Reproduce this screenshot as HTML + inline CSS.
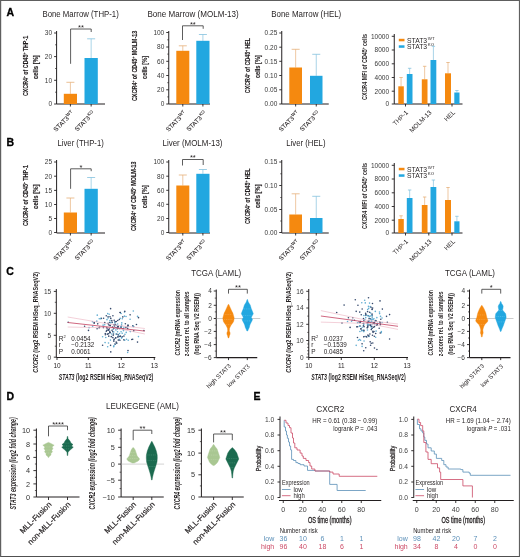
<!DOCTYPE html>
<html><head><meta charset="utf-8"><style>
html,body{margin:0;padding:0;background:#fff;}
svg{display:block;font-family:"Liberation Sans", sans-serif;will-change:transform;}
</style></head><body>
<svg width="520" height="557" viewBox="0 0 520 557">
<rect width="520" height="557" fill="#fff"/>
<rect x="0" y="0" width="520" height="1" fill="#5e5e5e"/><rect x="0" y="556" width="520" height="1" fill="#505050"/><rect x="0" y="0" width="1.2" height="557" fill="#606060"/><rect x="518.9" y="0" width="1.1" height="557" fill="#606060"/>
<text x="6.5" y="16.2" font-size="10.5" fill="#000" text-anchor="start" stroke="#000" stroke-width="0.3" font-weight="bold">A</text>
<text x="6.5" y="145.7" font-size="10.5" fill="#000" text-anchor="start" stroke="#000" stroke-width="0.3" font-weight="bold">B</text>
<text x="6.2" y="275" font-size="10.5" fill="#000" text-anchor="start" stroke="#000" stroke-width="0.3" font-weight="bold">C</text>
<text x="6.5" y="400.4" font-size="10.5" fill="#000" text-anchor="start" stroke="#000" stroke-width="0.3" font-weight="bold">D</text>
<text x="253.5" y="400.4" font-size="10.5" fill="#000" text-anchor="start" stroke="#000" stroke-width="0.3" font-weight="bold">E</text>
<text x="42.5" y="16.7" font-size="8.2" fill="#231f20" text-anchor="start" textLength="76.25" lengthAdjust="spacingAndGlyphs">Bone Marrow (THP-1)</text>
<line x1="56.6" y1="31" x2="56.6" y2="104" stroke="#231f20" stroke-width="1" />
<line x1="54.1" y1="33" x2="56.6" y2="33" stroke="#231f20" stroke-width="0.9" />
<text x="52.1" y="35.3" font-size="6.5" fill="#383838" text-anchor="end">30</text>
<line x1="54.1" y1="56.6" x2="56.6" y2="56.6" stroke="#231f20" stroke-width="0.9" />
<text x="52.1" y="58.9" font-size="6.5" fill="#383838" text-anchor="end">20</text>
<line x1="54.1" y1="80.3" x2="56.6" y2="80.3" stroke="#231f20" stroke-width="0.9" />
<text x="52.1" y="82.6" font-size="6.5" fill="#383838" text-anchor="end">10</text>
<line x1="54.1" y1="104" x2="56.6" y2="104" stroke="#231f20" stroke-width="0.9" />
<text x="52.1" y="106.3" font-size="6.5" fill="#383838" text-anchor="end">0</text>
<line x1="55.1" y1="44.8" x2="56.6" y2="44.8" stroke="#231f20" stroke-width="0.7" />
<line x1="55.1" y1="68.5" x2="56.6" y2="68.5" stroke="#231f20" stroke-width="0.7" />
<line x1="55.1" y1="92.2" x2="56.6" y2="92.2" stroke="#231f20" stroke-width="0.7" />
<line x1="56.6" y1="104" x2="105" y2="104" stroke="#231f20" stroke-width="1.1" />
<line x1="70.4" y1="104" x2="70.4" y2="106.5" stroke="#231f20" stroke-width="0.9" />
<line x1="91.15" y1="104" x2="91.15" y2="106.5" stroke="#231f20" stroke-width="0.9" />
<line x1="70.4" y1="82.3" x2="70.4" y2="93.8" stroke="#e6b07a" stroke-width="0.7" />
<line x1="66.4" y1="82.3" x2="74.4" y2="82.3" stroke="#e6b07a" stroke-width="0.8" />
<rect x="63.8" y="93.8" width="13.2" height="10.2" fill="#f5890f"/>
<line x1="91.15" y1="38.8" x2="91.15" y2="58" stroke="#84c2de" stroke-width="0.7" />
<line x1="87.15" y1="38.8" x2="95.15" y2="38.8" stroke="#84c2de" stroke-width="0.8" />
<rect x="84.5" y="58" width="13.3" height="46" fill="#22a7e0"/>
<polyline points="70.6,63.8 70.6,29 91.2,29 91.2,32" fill="none" stroke="#333" stroke-width="0.8" stroke-linejoin="miter"/>
<text x="80.9" y="29.9" font-size="7.5" fill="#231f20" text-anchor="middle">**</text>
<text x="28.3" y="96.1" font-size="8" fill="#231f20" text-anchor="start" stroke="#231f20" stroke-width="0.15" font-weight="bold" textLength="60.3" lengthAdjust="spacingAndGlyphs" transform="rotate(-90 28.3 96.1)">CXCR4<tspan font-size="4.5" dy="-2">+</tspan><tspan dy="2"> of CD45</tspan><tspan font-size="4.5" dy="-2">+</tspan><tspan dy="2"> THP-1</tspan></text>
<text x="38" y="78.9" font-size="8" fill="#231f20" text-anchor="start" stroke="#231f20" stroke-width="0.15" font-weight="bold" textLength="23.7" lengthAdjust="spacingAndGlyphs" transform="rotate(-90 38 78.9)">cells [%]</text>
<text x="74.4" y="113.8" font-size="6.3" fill="#231f20" text-anchor="end" stroke="#231f20" stroke-width="0.08" transform="rotate(-45 74.4 113.8)">STAT3<tspan font-size="4.3" dy="-2.6" dx="0.5">WT</tspan></text>
<text x="95.15" y="113.8" font-size="6.3" fill="#231f20" text-anchor="end" stroke="#231f20" stroke-width="0.08" transform="rotate(-45 95.15 113.8)">STAT3<tspan font-size="4.3" dy="-2.6" dx="0.5">KO</tspan></text>
<text x="147.5" y="16.7" font-size="8.2" fill="#231f20" text-anchor="start" textLength="91.25" lengthAdjust="spacingAndGlyphs">Bone Marrow (MOLM-13)</text>
<line x1="168.75" y1="31" x2="168.75" y2="104" stroke="#231f20" stroke-width="1" />
<line x1="166.25" y1="32.5" x2="168.75" y2="32.5" stroke="#231f20" stroke-width="0.9" />
<text x="164.25" y="34.8" font-size="6.5" fill="#383838" text-anchor="end">100</text>
<line x1="166.25" y1="47" x2="168.75" y2="47" stroke="#231f20" stroke-width="0.9" />
<text x="164.25" y="49.3" font-size="6.5" fill="#383838" text-anchor="end">80</text>
<line x1="166.25" y1="61.3" x2="168.75" y2="61.3" stroke="#231f20" stroke-width="0.9" />
<text x="164.25" y="63.6" font-size="6.5" fill="#383838" text-anchor="end">60</text>
<line x1="166.25" y1="75.5" x2="168.75" y2="75.5" stroke="#231f20" stroke-width="0.9" />
<text x="164.25" y="77.8" font-size="6.5" fill="#383838" text-anchor="end">40</text>
<line x1="166.25" y1="89.8" x2="168.75" y2="89.8" stroke="#231f20" stroke-width="0.9" />
<text x="164.25" y="92.1" font-size="6.5" fill="#383838" text-anchor="end">20</text>
<line x1="166.25" y1="104" x2="168.75" y2="104" stroke="#231f20" stroke-width="0.9" />
<text x="164.25" y="106.3" font-size="6.5" fill="#383838" text-anchor="end">0</text>
<line x1="167.25" y1="39.8" x2="168.75" y2="39.8" stroke="#231f20" stroke-width="0.7" />
<line x1="167.25" y1="54.1" x2="168.75" y2="54.1" stroke="#231f20" stroke-width="0.7" />
<line x1="167.25" y1="68.4" x2="168.75" y2="68.4" stroke="#231f20" stroke-width="0.7" />
<line x1="167.25" y1="82.7" x2="168.75" y2="82.7" stroke="#231f20" stroke-width="0.7" />
<line x1="167.25" y1="96.9" x2="168.75" y2="96.9" stroke="#231f20" stroke-width="0.7" />
<line x1="168.75" y1="104" x2="210" y2="104" stroke="#231f20" stroke-width="1.1" />
<line x1="182.8" y1="104" x2="182.8" y2="106.5" stroke="#231f20" stroke-width="0.9" />
<line x1="202.9" y1="104" x2="202.9" y2="106.5" stroke="#231f20" stroke-width="0.9" />
<line x1="182.8" y1="45.8" x2="182.8" y2="50.8" stroke="#e6b07a" stroke-width="0.7" />
<line x1="178.8" y1="45.8" x2="186.8" y2="45.8" stroke="#e6b07a" stroke-width="0.8" />
<rect x="176.3" y="50.8" width="13" height="53.2" fill="#f5890f"/>
<line x1="202.9" y1="34.5" x2="202.9" y2="40.8" stroke="#84c2de" stroke-width="0.7" />
<line x1="198.9" y1="34.5" x2="206.9" y2="34.5" stroke="#84c2de" stroke-width="0.8" />
<rect x="196.3" y="40.8" width="13.2" height="63.2" fill="#22a7e0"/>
<polyline points="182.5,40 182.5,25.8 203.2,25.8 203.2,28.8" fill="none" stroke="#333" stroke-width="0.8" stroke-linejoin="miter"/>
<text x="192.85" y="26.7" font-size="7.5" fill="#231f20" text-anchor="middle">**</text>
<text x="136.8" y="101.1" font-size="8" fill="#231f20" text-anchor="start" stroke="#231f20" stroke-width="0.15" font-weight="bold" textLength="70.4" lengthAdjust="spacingAndGlyphs" transform="rotate(-90 136.8 101.1)">CXCR4<tspan font-size="4.5" dy="-2">+</tspan><tspan dy="2"> of CD45</tspan><tspan font-size="4.5" dy="-2">+</tspan><tspan dy="2"> MOLM-13</tspan></text>
<text x="147" y="78.9" font-size="8" fill="#231f20" text-anchor="start" stroke="#231f20" stroke-width="0.15" font-weight="bold" textLength="23" lengthAdjust="spacingAndGlyphs" transform="rotate(-90 147 78.9)">cells [%]</text>
<text x="186.8" y="113.8" font-size="6.3" fill="#231f20" text-anchor="end" stroke="#231f20" stroke-width="0.08" transform="rotate(-45 186.8 113.8)">STAT3<tspan font-size="4.3" dy="-2.6" dx="0.5">WT</tspan></text>
<text x="206.9" y="113.8" font-size="6.3" fill="#231f20" text-anchor="end" stroke="#231f20" stroke-width="0.08" transform="rotate(-45 206.9 113.8)">STAT3<tspan font-size="4.3" dy="-2.6" dx="0.5">KO</tspan></text>
<text x="271.25" y="16.7" font-size="8.2" fill="#231f20" text-anchor="start" textLength="70" lengthAdjust="spacingAndGlyphs">Bone Marrow (HEL)</text>
<line x1="281.75" y1="31" x2="281.75" y2="104" stroke="#231f20" stroke-width="1" />
<line x1="279.25" y1="33" x2="281.75" y2="33" stroke="#231f20" stroke-width="0.9" />
<text x="277.25" y="35.3" font-size="6.5" fill="#383838" text-anchor="end">0.25</text>
<line x1="279.25" y1="47.2" x2="281.75" y2="47.2" stroke="#231f20" stroke-width="0.9" />
<text x="277.25" y="49.5" font-size="6.5" fill="#383838" text-anchor="end">0.20</text>
<line x1="279.25" y1="61.3" x2="281.75" y2="61.3" stroke="#231f20" stroke-width="0.9" />
<text x="277.25" y="63.6" font-size="6.5" fill="#383838" text-anchor="end">0.15</text>
<line x1="279.25" y1="75.5" x2="281.75" y2="75.5" stroke="#231f20" stroke-width="0.9" />
<text x="277.25" y="77.8" font-size="6.5" fill="#383838" text-anchor="end">0.10</text>
<line x1="279.25" y1="89.8" x2="281.75" y2="89.8" stroke="#231f20" stroke-width="0.9" />
<text x="277.25" y="92.1" font-size="6.5" fill="#383838" text-anchor="end">0.05</text>
<line x1="279.25" y1="104" x2="281.75" y2="104" stroke="#231f20" stroke-width="0.9" />
<text x="277.25" y="106.3" font-size="6.5" fill="#383838" text-anchor="end">0.00</text>
<line x1="281.75" y1="104" x2="328.75" y2="104" stroke="#231f20" stroke-width="1.1" />
<line x1="295.65" y1="104" x2="295.65" y2="106.5" stroke="#231f20" stroke-width="0.9" />
<line x1="316.25" y1="104" x2="316.25" y2="106.5" stroke="#231f20" stroke-width="0.9" />
<line x1="295.65" y1="49.3" x2="295.65" y2="67.5" stroke="#e6b07a" stroke-width="0.7" />
<line x1="291.65" y1="49.3" x2="299.65" y2="49.3" stroke="#e6b07a" stroke-width="0.8" />
<rect x="289.3" y="67.5" width="12.7" height="36.5" fill="#f5890f"/>
<line x1="316.25" y1="54.3" x2="316.25" y2="75.8" stroke="#84c2de" stroke-width="0.7" />
<line x1="312.25" y1="54.3" x2="320.25" y2="54.3" stroke="#84c2de" stroke-width="0.8" />
<rect x="310" y="75.8" width="12.5" height="28.2" fill="#22a7e0"/>
<text x="249.7" y="93.2" font-size="8" fill="#231f20" text-anchor="start" stroke="#231f20" stroke-width="0.15" font-weight="bold" textLength="55.3" lengthAdjust="spacingAndGlyphs" transform="rotate(-90 249.7 93.2)">CXCR4<tspan font-size="4.5" dy="-2">+</tspan><tspan dy="2"> of CD45</tspan><tspan font-size="4.5" dy="-2">+</tspan><tspan dy="2"> HEL</tspan></text>
<text x="260.1" y="78.1" font-size="8" fill="#231f20" text-anchor="start" stroke="#231f20" stroke-width="0.15" font-weight="bold" textLength="23" lengthAdjust="spacingAndGlyphs" transform="rotate(-90 260.1 78.1)">cells [%]</text>
<text x="299.65" y="113.8" font-size="6.3" fill="#231f20" text-anchor="end" stroke="#231f20" stroke-width="0.08" transform="rotate(-45 299.65 113.8)">STAT3<tspan font-size="4.3" dy="-2.6" dx="0.5">WT</tspan></text>
<text x="320.25" y="113.8" font-size="6.3" fill="#231f20" text-anchor="end" stroke="#231f20" stroke-width="0.08" transform="rotate(-45 320.25 113.8)">STAT3<tspan font-size="4.3" dy="-2.6" dx="0.5">KO</tspan></text>
<text x="57.5" y="145.7" font-size="8.2" fill="#231f20" text-anchor="start" textLength="46.25" lengthAdjust="spacingAndGlyphs">Liver (THP-1)</text>
<line x1="56.6" y1="160" x2="56.6" y2="233" stroke="#231f20" stroke-width="1" />
<line x1="54.1" y1="162" x2="56.6" y2="162" stroke="#231f20" stroke-width="0.9" />
<text x="52.1" y="164.3" font-size="6.5" fill="#383838" text-anchor="end">25</text>
<line x1="54.1" y1="176.2" x2="56.6" y2="176.2" stroke="#231f20" stroke-width="0.9" />
<text x="52.1" y="178.5" font-size="6.5" fill="#383838" text-anchor="end">20</text>
<line x1="54.1" y1="190.4" x2="56.6" y2="190.4" stroke="#231f20" stroke-width="0.9" />
<text x="52.1" y="192.7" font-size="6.5" fill="#383838" text-anchor="end">15</text>
<line x1="54.1" y1="204.5" x2="56.6" y2="204.5" stroke="#231f20" stroke-width="0.9" />
<text x="52.1" y="206.8" font-size="6.5" fill="#383838" text-anchor="end">10</text>
<line x1="54.1" y1="218.5" x2="56.6" y2="218.5" stroke="#231f20" stroke-width="0.9" />
<text x="52.1" y="220.8" font-size="6.5" fill="#383838" text-anchor="end">5</text>
<line x1="54.1" y1="232.5" x2="56.6" y2="232.5" stroke="#231f20" stroke-width="0.9" />
<text x="52.1" y="234.8" font-size="6.5" fill="#383838" text-anchor="end">0</text>
<line x1="56.6" y1="233" x2="105" y2="233" stroke="#231f20" stroke-width="1.1" />
<line x1="70.4" y1="233" x2="70.4" y2="235.5" stroke="#231f20" stroke-width="0.9" />
<line x1="91.15" y1="233" x2="91.15" y2="235.5" stroke="#231f20" stroke-width="0.9" />
<line x1="70.4" y1="198" x2="70.4" y2="212.5" stroke="#e6b07a" stroke-width="0.7" />
<line x1="66.4" y1="198" x2="74.4" y2="198" stroke="#e6b07a" stroke-width="0.8" />
<rect x="63.8" y="212.5" width="13.2" height="20.5" fill="#f5890f"/>
<line x1="91.15" y1="177.5" x2="91.15" y2="188.8" stroke="#84c2de" stroke-width="0.7" />
<line x1="87.15" y1="177.5" x2="95.15" y2="177.5" stroke="#84c2de" stroke-width="0.8" />
<rect x="84.5" y="188.8" width="13.3" height="44.2" fill="#22a7e0"/>
<polyline points="70.6,188.8 70.6,168.8 91.2,168.8 91.2,171.2" fill="none" stroke="#333" stroke-width="0.8" stroke-linejoin="miter"/>
<text x="80.9" y="169.7" font-size="7.5" fill="#231f20" text-anchor="middle">*</text>
<text x="28.5" y="226.1" font-size="8" fill="#231f20" text-anchor="start" stroke="#231f20" stroke-width="0.15" font-weight="bold" textLength="61" lengthAdjust="spacingAndGlyphs" transform="rotate(-90 28.5 226.1)">CXCR4<tspan font-size="4.5" dy="-2">+</tspan><tspan dy="2"> of CD45</tspan><tspan font-size="4.5" dy="-2">+</tspan><tspan dy="2"> THP-1</tspan></text>
<text x="38" y="208.9" font-size="8" fill="#231f20" text-anchor="start" stroke="#231f20" stroke-width="0.15" font-weight="bold" textLength="24.4" lengthAdjust="spacingAndGlyphs" transform="rotate(-90 38 208.9)">cells [%]</text>
<text x="74.4" y="242.8" font-size="6.3" fill="#231f20" text-anchor="end" stroke="#231f20" stroke-width="0.08" transform="rotate(-45 74.4 242.8)">STAT3<tspan font-size="4.3" dy="-2.6" dx="0.5">WT</tspan></text>
<text x="95.15" y="242.8" font-size="6.3" fill="#231f20" text-anchor="end" stroke="#231f20" stroke-width="0.08" transform="rotate(-45 95.15 242.8)">STAT3<tspan font-size="4.3" dy="-2.6" dx="0.5">KO</tspan></text>
<text x="162.5" y="145.7" font-size="8.2" fill="#231f20" text-anchor="start" textLength="60" lengthAdjust="spacingAndGlyphs">Liver (MOLM-13)</text>
<line x1="168.75" y1="160" x2="168.75" y2="233" stroke="#231f20" stroke-width="1" />
<line x1="166.25" y1="162" x2="168.75" y2="162" stroke="#231f20" stroke-width="0.9" />
<text x="164.25" y="164.3" font-size="6.5" fill="#383838" text-anchor="end">100</text>
<line x1="166.25" y1="176.2" x2="168.75" y2="176.2" stroke="#231f20" stroke-width="0.9" />
<text x="164.25" y="178.5" font-size="6.5" fill="#383838" text-anchor="end">80</text>
<line x1="166.25" y1="190.3" x2="168.75" y2="190.3" stroke="#231f20" stroke-width="0.9" />
<text x="164.25" y="192.6" font-size="6.5" fill="#383838" text-anchor="end">60</text>
<line x1="166.25" y1="204.3" x2="168.75" y2="204.3" stroke="#231f20" stroke-width="0.9" />
<text x="164.25" y="206.6" font-size="6.5" fill="#383838" text-anchor="end">40</text>
<line x1="166.25" y1="218.5" x2="168.75" y2="218.5" stroke="#231f20" stroke-width="0.9" />
<text x="164.25" y="220.8" font-size="6.5" fill="#383838" text-anchor="end">20</text>
<line x1="166.25" y1="232.5" x2="168.75" y2="232.5" stroke="#231f20" stroke-width="0.9" />
<text x="164.25" y="234.8" font-size="6.5" fill="#383838" text-anchor="end">0</text>
<line x1="168.75" y1="233" x2="210" y2="233" stroke="#231f20" stroke-width="1.1" />
<line x1="182.8" y1="233" x2="182.8" y2="235.5" stroke="#231f20" stroke-width="0.9" />
<line x1="202.9" y1="233" x2="202.9" y2="235.5" stroke="#231f20" stroke-width="0.9" />
<line x1="182.8" y1="175" x2="182.8" y2="185.5" stroke="#e6b07a" stroke-width="0.7" />
<line x1="178.8" y1="175" x2="186.8" y2="175" stroke="#e6b07a" stroke-width="0.8" />
<rect x="176.3" y="185.5" width="13" height="47.5" fill="#f5890f"/>
<line x1="202.9" y1="169.5" x2="202.9" y2="173.8" stroke="#84c2de" stroke-width="0.7" />
<line x1="198.9" y1="169.5" x2="206.9" y2="169.5" stroke="#84c2de" stroke-width="0.8" />
<rect x="196.3" y="173.8" width="13.2" height="59.2" fill="#22a7e0"/>
<polyline points="182.5,165.5 182.5,159.5 203.2,159.5 203.2,165" fill="none" stroke="#333" stroke-width="0.8" stroke-linejoin="miter"/>
<text x="192.85" y="160.4" font-size="7.5" fill="#231f20" text-anchor="middle">**</text>
<text x="136.3" y="231.1" font-size="8" fill="#231f20" text-anchor="start" stroke="#231f20" stroke-width="0.15" font-weight="bold" textLength="69.6" lengthAdjust="spacingAndGlyphs" transform="rotate(-90 136.3 231.1)">CXCR4<tspan font-size="4.5" dy="-2">+</tspan><tspan dy="2"> of CD45</tspan><tspan font-size="4.5" dy="-2">+</tspan><tspan dy="2"> MOLM-13</tspan></text>
<text x="147" y="208.2" font-size="8" fill="#231f20" text-anchor="start" stroke="#231f20" stroke-width="0.15" font-weight="bold" textLength="23" lengthAdjust="spacingAndGlyphs" transform="rotate(-90 147 208.2)">cells [%]</text>
<text x="186.8" y="242.8" font-size="6.3" fill="#231f20" text-anchor="end" stroke="#231f20" stroke-width="0.08" transform="rotate(-45 186.8 242.8)">STAT3<tspan font-size="4.3" dy="-2.6" dx="0.5">WT</tspan></text>
<text x="206.9" y="242.8" font-size="6.3" fill="#231f20" text-anchor="end" stroke="#231f20" stroke-width="0.08" transform="rotate(-45 206.9 242.8)">STAT3<tspan font-size="4.3" dy="-2.6" dx="0.5">KO</tspan></text>
<text x="286.25" y="145.7" font-size="8.2" fill="#231f20" text-anchor="start" textLength="39.25" lengthAdjust="spacingAndGlyphs">Liver (HEL)</text>
<line x1="281.75" y1="160" x2="281.75" y2="233" stroke="#231f20" stroke-width="1" />
<line x1="279.25" y1="162" x2="281.75" y2="162" stroke="#231f20" stroke-width="0.9" />
<text x="277.25" y="164.3" font-size="6.5" fill="#383838" text-anchor="end">0.15</text>
<line x1="279.25" y1="185.5" x2="281.75" y2="185.5" stroke="#231f20" stroke-width="0.9" />
<text x="277.25" y="187.8" font-size="6.5" fill="#383838" text-anchor="end">0.10</text>
<line x1="279.25" y1="209.5" x2="281.75" y2="209.5" stroke="#231f20" stroke-width="0.9" />
<text x="277.25" y="211.8" font-size="6.5" fill="#383838" text-anchor="end">0.05</text>
<line x1="279.25" y1="232.5" x2="281.75" y2="232.5" stroke="#231f20" stroke-width="0.9" />
<text x="277.25" y="234.8" font-size="6.5" fill="#383838" text-anchor="end">0.00</text>
<line x1="280.25" y1="173.8" x2="281.75" y2="173.8" stroke="#231f20" stroke-width="0.7" />
<line x1="280.25" y1="197.5" x2="281.75" y2="197.5" stroke="#231f20" stroke-width="0.7" />
<line x1="280.25" y1="221" x2="281.75" y2="221" stroke="#231f20" stroke-width="0.7" />
<line x1="281.75" y1="233" x2="328.75" y2="233" stroke="#231f20" stroke-width="1.1" />
<line x1="295.65" y1="233" x2="295.65" y2="235.5" stroke="#231f20" stroke-width="0.9" />
<line x1="316.25" y1="233" x2="316.25" y2="235.5" stroke="#231f20" stroke-width="0.9" />
<line x1="295.65" y1="193.8" x2="295.65" y2="214.5" stroke="#e6b07a" stroke-width="0.7" />
<line x1="291.65" y1="193.8" x2="299.65" y2="193.8" stroke="#e6b07a" stroke-width="0.8" />
<rect x="289.3" y="214.5" width="12.7" height="18.5" fill="#f5890f"/>
<line x1="316.25" y1="196.3" x2="316.25" y2="218" stroke="#84c2de" stroke-width="0.7" />
<line x1="312.25" y1="196.3" x2="320.25" y2="196.3" stroke="#84c2de" stroke-width="0.8" />
<rect x="310" y="218" width="12.5" height="15" fill="#22a7e0"/>
<text x="249.7" y="224" font-size="8" fill="#231f20" text-anchor="start" stroke="#231f20" stroke-width="0.15" font-weight="bold" textLength="55.4" lengthAdjust="spacingAndGlyphs" transform="rotate(-90 249.7 224)">CXCR4<tspan font-size="4.5" dy="-2">+</tspan><tspan dy="2"> of CD45</tspan><tspan font-size="4.5" dy="-2">+</tspan><tspan dy="2"> HEL</tspan></text>
<text x="260.1" y="208.1" font-size="8" fill="#231f20" text-anchor="start" stroke="#231f20" stroke-width="0.15" font-weight="bold" textLength="23.7" lengthAdjust="spacingAndGlyphs" transform="rotate(-90 260.1 208.1)">cells [%]</text>
<text x="299.65" y="242.8" font-size="6.3" fill="#231f20" text-anchor="end" stroke="#231f20" stroke-width="0.08" transform="rotate(-45 299.65 242.8)">STAT3<tspan font-size="4.3" dy="-2.6" dx="0.5">WT</tspan></text>
<text x="320.25" y="242.8" font-size="6.3" fill="#231f20" text-anchor="end" stroke="#231f20" stroke-width="0.08" transform="rotate(-45 320.25 242.8)">STAT3<tspan font-size="4.3" dy="-2.6" dx="0.5">KO</tspan></text>
<line x1="394.25" y1="34" x2="394.25" y2="104" stroke="#231f20" stroke-width="1" />
<line x1="391.75" y1="36.3" x2="394.25" y2="36.3" stroke="#231f20" stroke-width="0.9" />
<text x="389" y="38.6" font-size="6.5" fill="#383838" text-anchor="end">10000</text>
<line x1="391.75" y1="50" x2="394.25" y2="50" stroke="#231f20" stroke-width="0.9" />
<text x="389" y="52.3" font-size="6.5" fill="#383838" text-anchor="end">8000</text>
<line x1="391.75" y1="63.8" x2="394.25" y2="63.8" stroke="#231f20" stroke-width="0.9" />
<text x="389" y="66.1" font-size="6.5" fill="#383838" text-anchor="end">6000</text>
<line x1="391.75" y1="77.5" x2="394.25" y2="77.5" stroke="#231f20" stroke-width="0.9" />
<text x="389" y="79.8" font-size="6.5" fill="#383838" text-anchor="end">4000</text>
<line x1="391.75" y1="91.2" x2="394.25" y2="91.2" stroke="#231f20" stroke-width="0.9" />
<text x="389" y="93.5" font-size="6.5" fill="#383838" text-anchor="end">2000</text>
<line x1="391.75" y1="104" x2="394.25" y2="104" stroke="#231f20" stroke-width="0.9" />
<text x="389" y="106.3" font-size="6.5" fill="#383838" text-anchor="end">0</text>
<line x1="394.25" y1="104" x2="462.5" y2="104" stroke="#231f20" stroke-width="1.1" />
<line x1="405.5" y1="104" x2="405.5" y2="106.5" stroke="#231f20" stroke-width="0.9" />
<line x1="428.8" y1="104" x2="428.8" y2="106.5" stroke="#231f20" stroke-width="0.9" />
<line x1="452" y1="104" x2="452" y2="106.5" stroke="#231f20" stroke-width="0.9" />
<line x1="401.05" y1="77.5" x2="401.05" y2="86.3" stroke="#e6b07a" stroke-width="0.7" />
<line x1="399.35" y1="77.5" x2="402.75" y2="77.5" stroke="#e6b07a" stroke-width="0.8" />
<rect x="398.3" y="86.3" width="5.5" height="17.7" fill="#f5890f"/>
<line x1="409.65" y1="68.3" x2="409.65" y2="74" stroke="#84c2de" stroke-width="0.7" />
<line x1="407.95" y1="68.3" x2="411.35" y2="68.3" stroke="#84c2de" stroke-width="0.8" />
<rect x="406.8" y="74" width="5.7" height="30" fill="#22a7e0"/>
<line x1="424.65" y1="66.3" x2="424.65" y2="79.3" stroke="#e6b07a" stroke-width="0.7" />
<line x1="422.95" y1="66.3" x2="426.35" y2="66.3" stroke="#e6b07a" stroke-width="0.8" />
<rect x="421.8" y="79.3" width="5.7" height="24.7" fill="#f5890f"/>
<line x1="433.4" y1="46.3" x2="433.4" y2="60" stroke="#84c2de" stroke-width="0.7" />
<line x1="431.7" y1="46.3" x2="435.1" y2="46.3" stroke="#84c2de" stroke-width="0.8" />
<rect x="430.5" y="60" width="5.8" height="44" fill="#22a7e0"/>
<line x1="448" y1="62.5" x2="448" y2="73.3" stroke="#e6b07a" stroke-width="0.7" />
<line x1="446.3" y1="62.5" x2="449.7" y2="62.5" stroke="#e6b07a" stroke-width="0.8" />
<rect x="445" y="73.3" width="6" height="30.7" fill="#f5890f"/>
<line x1="456.9" y1="90.5" x2="456.9" y2="92.5" stroke="#84c2de" stroke-width="0.7" />
<line x1="455.2" y1="90.5" x2="458.6" y2="90.5" stroke="#84c2de" stroke-width="0.8" />
<rect x="454.3" y="92.5" width="5.2" height="11.5" fill="#22a7e0"/>
<rect x="398.8" y="38.8" width="5.7" height="2.5" fill="#f5890f"/>
<rect x="398.8" y="45.3" width="5.7" height="2.5" fill="#22a7e0"/>
<text x="407" y="42.8" font-size="6.8" fill="#231f20" text-anchor="start">STAT3<tspan font-size="4.4" dy="-3" dx="0.6">WT</tspan></text>
<text x="407" y="49.3" font-size="6.8" fill="#231f20" text-anchor="start">STAT3<tspan font-size="4.4" dy="-3" dx="0.6">KO</tspan></text>
<text x="366.6" y="100" font-size="8" fill="#231f20" text-anchor="start" font-weight="bold" textLength="66" lengthAdjust="spacingAndGlyphs" transform="rotate(-90 366.6 100)">CXCR4 MFI of CD45<tspan font-size="4.5" dy="-2">+</tspan><tspan dy="2"> cells</tspan></text>
<text x="408.5" y="113" font-size="6.4" fill="#231f20" text-anchor="end" transform="rotate(-45 408.5 113)">THP-1</text>
<text x="432" y="113" font-size="6.4" fill="#231f20" text-anchor="end" transform="rotate(-45 432 113)">MOLM-13</text>
<text x="455.5" y="113" font-size="6.4" fill="#231f20" text-anchor="end" transform="rotate(-45 455.5 113)">HEL</text>
<line x1="394.25" y1="163" x2="394.25" y2="233" stroke="#231f20" stroke-width="1" />
<line x1="391.75" y1="165.3" x2="394.25" y2="165.3" stroke="#231f20" stroke-width="0.9" />
<text x="389" y="167.6" font-size="6.5" fill="#383838" text-anchor="end">10000</text>
<line x1="391.75" y1="179" x2="394.25" y2="179" stroke="#231f20" stroke-width="0.9" />
<text x="389" y="181.3" font-size="6.5" fill="#383838" text-anchor="end">8000</text>
<line x1="391.75" y1="192.8" x2="394.25" y2="192.8" stroke="#231f20" stroke-width="0.9" />
<text x="389" y="195.1" font-size="6.5" fill="#383838" text-anchor="end">6000</text>
<line x1="391.75" y1="206.5" x2="394.25" y2="206.5" stroke="#231f20" stroke-width="0.9" />
<text x="389" y="208.8" font-size="6.5" fill="#383838" text-anchor="end">4000</text>
<line x1="391.75" y1="220.2" x2="394.25" y2="220.2" stroke="#231f20" stroke-width="0.9" />
<text x="389" y="222.5" font-size="6.5" fill="#383838" text-anchor="end">2000</text>
<line x1="391.75" y1="233" x2="394.25" y2="233" stroke="#231f20" stroke-width="0.9" />
<text x="389" y="235.3" font-size="6.5" fill="#383838" text-anchor="end">0</text>
<line x1="394.25" y1="233" x2="462.5" y2="233" stroke="#231f20" stroke-width="1.1" />
<line x1="405.5" y1="233" x2="405.5" y2="235.5" stroke="#231f20" stroke-width="0.9" />
<line x1="428.8" y1="233" x2="428.8" y2="235.5" stroke="#231f20" stroke-width="0.9" />
<line x1="452" y1="233" x2="452" y2="235.5" stroke="#231f20" stroke-width="0.9" />
<line x1="401.05" y1="215.8" x2="401.05" y2="219" stroke="#e6b07a" stroke-width="0.7" />
<line x1="399.35" y1="215.8" x2="402.75" y2="215.8" stroke="#e6b07a" stroke-width="0.8" />
<rect x="398.3" y="219" width="5.5" height="14" fill="#f5890f"/>
<line x1="409.65" y1="190" x2="409.65" y2="198" stroke="#84c2de" stroke-width="0.7" />
<line x1="407.95" y1="190" x2="411.35" y2="190" stroke="#84c2de" stroke-width="0.8" />
<rect x="406.8" y="198" width="5.7" height="35" fill="#22a7e0"/>
<line x1="424.65" y1="197" x2="424.65" y2="205" stroke="#e6b07a" stroke-width="0.7" />
<line x1="422.95" y1="197" x2="426.35" y2="197" stroke="#e6b07a" stroke-width="0.8" />
<rect x="421.8" y="205" width="5.7" height="28" fill="#f5890f"/>
<line x1="433.4" y1="180" x2="433.4" y2="187" stroke="#84c2de" stroke-width="0.7" />
<line x1="431.7" y1="180" x2="435.1" y2="180" stroke="#84c2de" stroke-width="0.8" />
<rect x="430.5" y="187" width="5.8" height="46" fill="#22a7e0"/>
<line x1="448" y1="187.5" x2="448" y2="200" stroke="#e6b07a" stroke-width="0.7" />
<line x1="446.3" y1="187.5" x2="449.7" y2="187.5" stroke="#e6b07a" stroke-width="0.8" />
<rect x="445" y="200" width="6" height="33" fill="#f5890f"/>
<line x1="456.9" y1="216.3" x2="456.9" y2="221.3" stroke="#84c2de" stroke-width="0.7" />
<line x1="455.2" y1="216.3" x2="458.6" y2="216.3" stroke="#84c2de" stroke-width="0.8" />
<rect x="454.3" y="221.3" width="5.2" height="11.7" fill="#22a7e0"/>
<rect x="398.8" y="167.8" width="5.7" height="2.5" fill="#f5890f"/>
<rect x="398.8" y="174.3" width="5.7" height="2.5" fill="#22a7e0"/>
<text x="407" y="171.8" font-size="6.8" fill="#231f20" text-anchor="start">STAT3<tspan font-size="4.4" dy="-3" dx="0.6">WT</tspan></text>
<text x="407" y="178.3" font-size="6.8" fill="#231f20" text-anchor="start">STAT3<tspan font-size="4.4" dy="-3" dx="0.6">KO</tspan></text>
<text x="366.6" y="229" font-size="8" fill="#231f20" text-anchor="start" font-weight="bold" textLength="66" lengthAdjust="spacingAndGlyphs" transform="rotate(-90 366.6 229)">CXCR4 MFI of CD45<tspan font-size="4.5" dy="-2">+</tspan><tspan dy="2"> cells</tspan></text>
<text x="408.5" y="242" font-size="6.4" fill="#231f20" text-anchor="end" transform="rotate(-45 408.5 242)">THP-1</text>
<text x="432" y="242" font-size="6.4" fill="#231f20" text-anchor="end" transform="rotate(-45 432 242)">MOLM-13</text>
<text x="455.5" y="242" font-size="6.4" fill="#231f20" text-anchor="end" transform="rotate(-45 455.5 242)">HEL</text>
<line x1="56.3" y1="289" x2="56.3" y2="357.5" stroke="#231f20" stroke-width="1" />
<line x1="53.8" y1="291.4" x2="56.3" y2="291.4" stroke="#231f20" stroke-width="0.9" />
<text x="51.2" y="293.7" font-size="6.5" fill="#383838" text-anchor="end">15</text>
<line x1="53.8" y1="313.3" x2="56.3" y2="313.3" stroke="#231f20" stroke-width="0.9" />
<text x="51.2" y="315.6" font-size="6.5" fill="#383838" text-anchor="end">10</text>
<line x1="53.8" y1="335.3" x2="56.3" y2="335.3" stroke="#231f20" stroke-width="0.9" />
<text x="51.2" y="337.6" font-size="6.5" fill="#383838" text-anchor="end">5</text>
<line x1="53.8" y1="357.2" x2="56.3" y2="357.2" stroke="#231f20" stroke-width="0.9" />
<text x="51.2" y="359.5" font-size="6.5" fill="#383838" text-anchor="end">0</text>
<line x1="54.8" y1="302.3" x2="56.3" y2="302.3" stroke="#231f20" stroke-width="0.7" />
<line x1="54.8" y1="324.3" x2="56.3" y2="324.3" stroke="#231f20" stroke-width="0.7" />
<line x1="54.8" y1="346.2" x2="56.3" y2="346.2" stroke="#231f20" stroke-width="0.7" />
<line x1="56.3" y1="357.5" x2="155.3" y2="357.5" stroke="#231f20" stroke-width="1.1" />
<line x1="57" y1="357.5" x2="57" y2="360" stroke="#231f20" stroke-width="0.9" />
<line x1="88.3" y1="357.5" x2="88.3" y2="360" stroke="#231f20" stroke-width="0.9" />
<line x1="121.3" y1="357.5" x2="121.3" y2="360" stroke="#231f20" stroke-width="0.9" />
<line x1="154.3" y1="357.5" x2="154.3" y2="360" stroke="#231f20" stroke-width="0.9" />
<text x="57" y="368" font-size="6.5" fill="#231f20" text-anchor="middle">10</text>
<text x="88.3" y="368" font-size="6.5" fill="#231f20" text-anchor="middle">11</text>
<text x="121.3" y="368" font-size="6.5" fill="#231f20" text-anchor="middle">12</text>
<text x="154.3" y="368" font-size="6.5" fill="#231f20" text-anchor="middle">13</text>
<circle cx="128.24" cy="340.32" r="0.8" fill="#62aed2"/>
<circle cx="115.65" cy="337.94" r="0.8" fill="#35496c"/>
<circle cx="106.29" cy="315.79" r="0.8" fill="#35496c"/>
<circle cx="133.77" cy="330.86" r="0.8" fill="#35496c"/>
<circle cx="116.05" cy="327.45" r="0.8" fill="#35496c"/>
<circle cx="114.78" cy="321.97" r="0.8" fill="#62aed2"/>
<circle cx="117.93" cy="326.77" r="0.8" fill="#35496c"/>
<circle cx="94.28" cy="322.83" r="0.8" fill="#35496c"/>
<circle cx="118.07" cy="336.71" r="0.8" fill="#35496c"/>
<circle cx="117.8" cy="336.98" r="0.8" fill="#35496c"/>
<circle cx="116.73" cy="334.12" r="0.8" fill="#35496c"/>
<circle cx="108.39" cy="329.77" r="0.8" fill="#35496c"/>
<circle cx="122.33" cy="318.76" r="0.8" fill="#62aed2"/>
<circle cx="127.65" cy="352.48" r="0.8" fill="#62aed2"/>
<circle cx="122.2" cy="333.26" r="0.8" fill="#62aed2"/>
<circle cx="110.62" cy="308.64" r="0.8" fill="#35496c"/>
<circle cx="122.82" cy="316.91" r="0.8" fill="#35496c"/>
<circle cx="99.24" cy="318.8" r="0.8" fill="#62aed2"/>
<circle cx="103.34" cy="327.62" r="0.8" fill="#35496c"/>
<circle cx="116.77" cy="343.17" r="0.8" fill="#35496c"/>
<circle cx="121.57" cy="337.49" r="0.8" fill="#62aed2"/>
<circle cx="111.79" cy="320.67" r="0.8" fill="#35496c"/>
<circle cx="99.53" cy="327.22" r="0.8" fill="#35496c"/>
<circle cx="107.37" cy="334.13" r="0.8" fill="#35496c"/>
<circle cx="130.26" cy="331.58" r="0.8" fill="#62aed2"/>
<circle cx="108.08" cy="323.3" r="0.8" fill="#35496c"/>
<circle cx="89.06" cy="327.66" r="0.8" fill="#62aed2"/>
<circle cx="97.73" cy="323.85" r="0.8" fill="#35496c"/>
<circle cx="92.64" cy="326.19" r="0.8" fill="#62aed2"/>
<circle cx="108.72" cy="329.71" r="0.8" fill="#35496c"/>
<circle cx="116.98" cy="327.76" r="0.8" fill="#62aed2"/>
<circle cx="124.49" cy="311.99" r="0.8" fill="#62aed2"/>
<circle cx="120.17" cy="318.42" r="0.8" fill="#62aed2"/>
<circle cx="113.11" cy="329.29" r="0.8" fill="#62aed2"/>
<circle cx="110.26" cy="325.58" r="0.8" fill="#35496c"/>
<circle cx="107.12" cy="328.76" r="0.8" fill="#35496c"/>
<circle cx="103.11" cy="325.16" r="0.8" fill="#62aed2"/>
<circle cx="113.81" cy="328.53" r="0.8" fill="#35496c"/>
<circle cx="121.56" cy="338.11" r="0.8" fill="#62aed2"/>
<circle cx="121.08" cy="313.52" r="0.8" fill="#62aed2"/>
<circle cx="115.39" cy="344.31" r="0.8" fill="#62aed2"/>
<circle cx="117.51" cy="328.78" r="0.8" fill="#35496c"/>
<circle cx="116.25" cy="321.56" r="0.8" fill="#35496c"/>
<circle cx="109.82" cy="322.48" r="0.8" fill="#35496c"/>
<circle cx="122.26" cy="336.77" r="0.8" fill="#35496c"/>
<circle cx="113.85" cy="341.27" r="0.8" fill="#35496c"/>
<circle cx="111.29" cy="336.66" r="0.8" fill="#35496c"/>
<circle cx="108.49" cy="333.81" r="0.8" fill="#35496c"/>
<circle cx="131.8" cy="339.51" r="0.8" fill="#35496c"/>
<circle cx="119.29" cy="339.21" r="0.8" fill="#62aed2"/>
<circle cx="117.79" cy="328.21" r="0.8" fill="#35496c"/>
<circle cx="114.91" cy="323.07" r="0.8" fill="#62aed2"/>
<circle cx="110.8" cy="318.4" r="0.8" fill="#35496c"/>
<circle cx="132.79" cy="325.68" r="0.8" fill="#35496c"/>
<circle cx="118.3" cy="340.12" r="0.8" fill="#35496c"/>
<circle cx="108.57" cy="324.57" r="0.8" fill="#62aed2"/>
<circle cx="123.46" cy="330.58" r="0.8" fill="#62aed2"/>
<circle cx="121.77" cy="322.88" r="0.8" fill="#62aed2"/>
<circle cx="107.67" cy="346.69" r="0.8" fill="#62aed2"/>
<circle cx="109.74" cy="331.26" r="0.8" fill="#35496c"/>
<circle cx="117.91" cy="326.37" r="0.8" fill="#62aed2"/>
<circle cx="128" cy="325.4" r="0.8" fill="#35496c"/>
<circle cx="133.29" cy="311.06" r="0.8" fill="#62aed2"/>
<circle cx="106.76" cy="327.54" r="0.8" fill="#35496c"/>
<circle cx="119.9" cy="340.24" r="0.8" fill="#35496c"/>
<circle cx="117.53" cy="331.75" r="0.8" fill="#62aed2"/>
<circle cx="112.81" cy="337.59" r="0.8" fill="#35496c"/>
<circle cx="130.1" cy="314.84" r="0.8" fill="#35496c"/>
<circle cx="118.57" cy="335.22" r="0.8" fill="#62aed2"/>
<circle cx="117.76" cy="320.43" r="0.8" fill="#35496c"/>
<circle cx="107.72" cy="313.58" r="0.8" fill="#62aed2"/>
<circle cx="105.07" cy="342.62" r="0.8" fill="#62aed2"/>
<circle cx="88.49" cy="330.41" r="0.8" fill="#35496c"/>
<circle cx="115.39" cy="324.47" r="0.8" fill="#35496c"/>
<circle cx="121.57" cy="324.88" r="0.8" fill="#62aed2"/>
<circle cx="101.27" cy="318.4" r="0.8" fill="#35496c"/>
<circle cx="111.76" cy="333.95" r="0.8" fill="#62aed2"/>
<circle cx="97.26" cy="315.16" r="0.8" fill="#62aed2"/>
<circle cx="123.93" cy="336.09" r="0.8" fill="#35496c"/>
<circle cx="119.59" cy="328.81" r="0.8" fill="#62aed2"/>
<circle cx="120.23" cy="312.49" r="0.8" fill="#35496c"/>
<circle cx="103.58" cy="318.18" r="0.8" fill="#35496c"/>
<circle cx="109.9" cy="325.4" r="0.8" fill="#35496c"/>
<circle cx="113.9" cy="345.79" r="0.8" fill="#62aed2"/>
<circle cx="125.37" cy="323.73" r="0.8" fill="#35496c"/>
<circle cx="120.11" cy="312.49" r="0.8" fill="#35496c"/>
<circle cx="114" cy="324.73" r="0.8" fill="#35496c"/>
<circle cx="118.04" cy="326.39" r="0.8" fill="#35496c"/>
<circle cx="125.9" cy="327.34" r="0.8" fill="#35496c"/>
<circle cx="119.5" cy="333.49" r="0.8" fill="#62aed2"/>
<circle cx="132.67" cy="339.25" r="0.8" fill="#35496c"/>
<circle cx="136.45" cy="324.54" r="0.8" fill="#35496c"/>
<circle cx="115.77" cy="337.68" r="0.8" fill="#35496c"/>
<circle cx="114.44" cy="326.03" r="0.8" fill="#35496c"/>
<circle cx="123.9" cy="327.22" r="0.8" fill="#62aed2"/>
<circle cx="108.17" cy="330.28" r="0.8" fill="#35496c"/>
<circle cx="137.51" cy="316.36" r="0.8" fill="#62aed2"/>
<circle cx="121.06" cy="331.81" r="0.8" fill="#62aed2"/>
<circle cx="127.79" cy="326.66" r="0.8" fill="#62aed2"/>
<circle cx="112.13" cy="322.4" r="0.8" fill="#35496c"/>
<circle cx="113.48" cy="333.98" r="0.8" fill="#35496c"/>
<circle cx="110.77" cy="351.88" r="0.8" fill="#35496c"/>
<circle cx="108.12" cy="318.03" r="0.8" fill="#62aed2"/>
<circle cx="109.72" cy="332.62" r="0.8" fill="#35496c"/>
<circle cx="108.5" cy="343.05" r="0.8" fill="#62aed2"/>
<circle cx="113.21" cy="335.25" r="0.8" fill="#35496c"/>
<circle cx="104.75" cy="322.55" r="0.8" fill="#35496c"/>
<circle cx="123.04" cy="328.81" r="0.8" fill="#35496c"/>
<circle cx="112.54" cy="326.97" r="0.8" fill="#35496c"/>
<circle cx="110.81" cy="322.7" r="0.8" fill="#62aed2"/>
<circle cx="97.09" cy="328.72" r="0.8" fill="#35496c"/>
<circle cx="99.09" cy="327.86" r="0.8" fill="#35496c"/>
<circle cx="121.56" cy="326.36" r="0.8" fill="#62aed2"/>
<circle cx="133.56" cy="326.5" r="0.8" fill="#35496c"/>
<circle cx="124.94" cy="334.36" r="0.8" fill="#62aed2"/>
<circle cx="110.57" cy="345.33" r="0.8" fill="#35496c"/>
<circle cx="118.04" cy="326.85" r="0.8" fill="#35496c"/>
<circle cx="130.07" cy="319.22" r="0.8" fill="#62aed2"/>
<circle cx="124.49" cy="316.15" r="0.8" fill="#62aed2"/>
<circle cx="120.41" cy="336.14" r="0.8" fill="#35496c"/>
<circle cx="112.91" cy="315.69" r="0.8" fill="#35496c"/>
<circle cx="138.46" cy="336.61" r="0.8" fill="#62aed2"/>
<circle cx="104.7" cy="324.77" r="0.8" fill="#62aed2"/>
<circle cx="106.87" cy="330.47" r="0.8" fill="#35496c"/>
<circle cx="115.89" cy="329.89" r="0.8" fill="#62aed2"/>
<circle cx="105.3" cy="333.53" r="0.8" fill="#35496c"/>
<circle cx="112.82" cy="331.67" r="0.8" fill="#35496c"/>
<circle cx="114.98" cy="343.95" r="0.8" fill="#35496c"/>
<circle cx="105.37" cy="334.81" r="0.8" fill="#35496c"/>
<circle cx="127.64" cy="328.49" r="0.8" fill="#35496c"/>
<circle cx="109.94" cy="320.65" r="0.8" fill="#62aed2"/>
<circle cx="115.18" cy="321.77" r="0.8" fill="#35496c"/>
<circle cx="109.28" cy="328.81" r="0.8" fill="#35496c"/>
<circle cx="96.77" cy="321.14" r="0.8" fill="#62aed2"/>
<circle cx="113.84" cy="340.1" r="0.8" fill="#35496c"/>
<circle cx="126.24" cy="332.42" r="0.8" fill="#62aed2"/>
<circle cx="124.72" cy="340.21" r="0.8" fill="#62aed2"/>
<circle cx="110.48" cy="340.08" r="0.8" fill="#62aed2"/>
<circle cx="105.78" cy="337.54" r="0.8" fill="#62aed2"/>
<circle cx="100.5" cy="318.63" r="0.8" fill="#62aed2"/>
<circle cx="127.98" cy="325.25" r="0.8" fill="#35496c"/>
<circle cx="115.98" cy="333.95" r="0.8" fill="#62aed2"/>
<circle cx="116.15" cy="325.22" r="0.8" fill="#62aed2"/>
<circle cx="114.2" cy="320.31" r="0.8" fill="#35496c"/>
<circle cx="123.84" cy="339.83" r="0.8" fill="#35496c"/>
<circle cx="133.14" cy="326.18" r="0.8" fill="#62aed2"/>
<circle cx="113.69" cy="346.66" r="0.8" fill="#62aed2"/>
<circle cx="126.54" cy="339.27" r="0.8" fill="#62aed2"/>
<circle cx="108.07" cy="316.87" r="0.8" fill="#35496c"/>
<circle cx="138.5" cy="317.63" r="0.8" fill="#35496c"/>
<circle cx="119.29" cy="319.44" r="0.8" fill="#35496c"/>
<circle cx="113.75" cy="331.93" r="0.8" fill="#62aed2"/>
<circle cx="120.63" cy="326.92" r="0.8" fill="#62aed2"/>
<circle cx="112.01" cy="330.32" r="0.8" fill="#35496c"/>
<circle cx="116.18" cy="342.14" r="0.8" fill="#35496c"/>
<circle cx="119.77" cy="336.49" r="0.8" fill="#35496c"/>
<circle cx="106.98" cy="319.67" r="0.8" fill="#62aed2"/>
<circle cx="118.09" cy="334.7" r="0.8" fill="#35496c"/>
<circle cx="114.17" cy="339.16" r="0.8" fill="#35496c"/>
<circle cx="109.18" cy="314.25" r="0.8" fill="#62aed2"/>
<circle cx="127.76" cy="326.24" r="0.8" fill="#35496c"/>
<circle cx="126.03" cy="316.54" r="0.8" fill="#62aed2"/>
<circle cx="110.23" cy="332.65" r="0.8" fill="#35496c"/>
<circle cx="117.68" cy="324.01" r="0.8" fill="#62aed2"/>
<circle cx="92.4" cy="321.82" r="0.8" fill="#62aed2"/>
<circle cx="121.08" cy="327.24" r="0.8" fill="#35496c"/>
<circle cx="108.63" cy="324.77" r="0.8" fill="#35496c"/>
<circle cx="108.76" cy="336.16" r="0.8" fill="#35496c"/>
<circle cx="106.29" cy="331.29" r="0.8" fill="#35496c"/>
<circle cx="102.6" cy="336.78" r="0.8" fill="#62aed2"/>
<circle cx="68.2" cy="322.3" r="0.8" fill="#35496c"/>
<circle cx="84.6" cy="326.3" r="0.8" fill="#35496c"/>
<circle cx="94.1" cy="323.1" r="0.8" fill="#35496c"/>
<circle cx="102.6" cy="345.3" r="0.8" fill="#35496c"/>
<circle cx="128" cy="350.6" r="0.8" fill="#35496c"/>
<circle cx="124.8" cy="311.4" r="0.8" fill="#35496c"/>
<circle cx="137.5" cy="342.1" r="0.8" fill="#35496c"/>
<circle cx="143.9" cy="330.5" r="0.8" fill="#35496c"/>
<circle cx="110" cy="316.7" r="0.8" fill="#35496c"/>
<polyline points="67.7,317 115,325 144.9,328.5" fill="none" stroke="#ebb0bf" stroke-width="0.6" stroke-linejoin="miter"/>
<polyline points="67.7,327 115,328 144.9,334" fill="none" stroke="#ebb0bf" stroke-width="0.6" stroke-linejoin="miter"/>
<polyline points="67.7,322.5 144.9,331.1" fill="none" stroke="#c4405f" stroke-width="0.8" stroke-linejoin="miter"/>
<text x="58.8" y="340.6" font-size="6.5" fill="#231f20" text-anchor="start">R<tspan font-size="4" dy="-2.5">2</tspan></text>
<text x="58.8" y="347.4" font-size="6.5" fill="#231f20" text-anchor="start">r</text>
<text x="58.8" y="354.3" font-size="6.5" fill="#231f20" text-anchor="start">P</text>
<text x="71.3" y="340.6" font-size="6.3" fill="#231f20" text-anchor="start">0.0454</text>
<text x="71.3" y="347.4" font-size="6.3" fill="#231f20" text-anchor="start">−0.2132</text>
<text x="71.3" y="354.3" font-size="6.3" fill="#231f20" text-anchor="start">0.0061</text>
<text x="58.7" y="379.8" font-size="8.2" fill="#231f20" text-anchor="start" font-weight="bold" textLength="94.6" lengthAdjust="spacingAndGlyphs"><tspan font-style="italic">STAT3</tspan> (log2 RSEM HiSeq_RNASeqV2)</text>
<text x="38.2" y="372.7" font-size="8" fill="#231f20" text-anchor="start" font-weight="bold" textLength="100.8" lengthAdjust="spacingAndGlyphs" transform="rotate(-90 38.2 372.7)"><tspan font-style="italic">CXCR2</tspan> (log2 RSEM HiSeq_RNASeqV2)</text>
<line x1="308.75" y1="289" x2="308.75" y2="357.5" stroke="#231f20" stroke-width="1" />
<line x1="306.25" y1="291.3" x2="308.75" y2="291.3" stroke="#231f20" stroke-width="0.9" />
<text x="303.6" y="293.6" font-size="6.5" fill="#383838" text-anchor="end">16</text>
<line x1="306.25" y1="308" x2="308.75" y2="308" stroke="#231f20" stroke-width="0.9" />
<text x="303.6" y="310.3" font-size="6.5" fill="#383838" text-anchor="end">14</text>
<line x1="306.25" y1="324.3" x2="308.75" y2="324.3" stroke="#231f20" stroke-width="0.9" />
<text x="303.6" y="326.6" font-size="6.5" fill="#383838" text-anchor="end">12</text>
<line x1="306.25" y1="340.5" x2="308.75" y2="340.5" stroke="#231f20" stroke-width="0.9" />
<text x="303.6" y="342.8" font-size="6.5" fill="#383838" text-anchor="end">10</text>
<line x1="306.25" y1="357.2" x2="308.75" y2="357.2" stroke="#231f20" stroke-width="0.9" />
<text x="303.6" y="359.5" font-size="6.5" fill="#383838" text-anchor="end">0</text>
<line x1="307.25" y1="299.7" x2="308.75" y2="299.7" stroke="#231f20" stroke-width="0.7" />
<line x1="307.25" y1="316.1" x2="308.75" y2="316.1" stroke="#231f20" stroke-width="0.7" />
<line x1="307.25" y1="332.4" x2="308.75" y2="332.4" stroke="#231f20" stroke-width="0.7" />
<line x1="307.25" y1="344" x2="308.75" y2="344" stroke="#231f20" stroke-width="0.7" />
<line x1="307.25" y1="347.4" x2="308.75" y2="347.4" stroke="#231f20" stroke-width="0.7" />
<line x1="307.25" y1="350.7" x2="308.75" y2="350.7" stroke="#231f20" stroke-width="0.7" />
<line x1="307.25" y1="354" x2="308.75" y2="354" stroke="#231f20" stroke-width="0.7" />
<line x1="308.75" y1="357.5" x2="408" y2="357.5" stroke="#231f20" stroke-width="1.1" />
<line x1="308.75" y1="357.5" x2="308.75" y2="360" stroke="#231f20" stroke-width="0.9" />
<line x1="341.3" y1="357.5" x2="341.3" y2="360" stroke="#231f20" stroke-width="0.9" />
<line x1="374.3" y1="357.5" x2="374.3" y2="360" stroke="#231f20" stroke-width="0.9" />
<line x1="407" y1="357.5" x2="407" y2="360" stroke="#231f20" stroke-width="0.9" />
<text x="308.75" y="368" font-size="6.5" fill="#231f20" text-anchor="middle">10</text>
<text x="341.3" y="368" font-size="6.5" fill="#231f20" text-anchor="middle">11</text>
<text x="374.3" y="368" font-size="6.5" fill="#231f20" text-anchor="middle">12</text>
<text x="407" y="368" font-size="6.5" fill="#231f20" text-anchor="middle">13</text>
<circle cx="386.54" cy="316.37" r="0.8" fill="#35496c"/>
<circle cx="381.27" cy="332.66" r="0.8" fill="#62aed2"/>
<circle cx="365.89" cy="315.49" r="0.8" fill="#62aed2"/>
<circle cx="361.25" cy="314.8" r="0.8" fill="#35496c"/>
<circle cx="362.2" cy="327.22" r="0.8" fill="#62aed2"/>
<circle cx="387.31" cy="322.21" r="0.8" fill="#35496c"/>
<circle cx="363.42" cy="325.68" r="0.8" fill="#35496c"/>
<circle cx="377.26" cy="324.92" r="0.8" fill="#35496c"/>
<circle cx="357.47" cy="337.43" r="0.8" fill="#35496c"/>
<circle cx="363.89" cy="320.28" r="0.8" fill="#35496c"/>
<circle cx="367.15" cy="327.83" r="0.8" fill="#35496c"/>
<circle cx="380.24" cy="322.88" r="0.8" fill="#35496c"/>
<circle cx="379.5" cy="311.93" r="0.8" fill="#62aed2"/>
<circle cx="379.6" cy="313.6" r="0.8" fill="#62aed2"/>
<circle cx="356.19" cy="345.37" r="0.8" fill="#62aed2"/>
<circle cx="375.65" cy="337.21" r="0.8" fill="#62aed2"/>
<circle cx="360.05" cy="325.95" r="0.8" fill="#35496c"/>
<circle cx="376.87" cy="317.64" r="0.8" fill="#62aed2"/>
<circle cx="359.56" cy="339.45" r="0.8" fill="#62aed2"/>
<circle cx="359.58" cy="326.14" r="0.8" fill="#62aed2"/>
<circle cx="367.58" cy="311.61" r="0.8" fill="#35496c"/>
<circle cx="363.74" cy="336.83" r="0.8" fill="#35496c"/>
<circle cx="373.96" cy="318.68" r="0.8" fill="#62aed2"/>
<circle cx="362.11" cy="346.38" r="0.8" fill="#62aed2"/>
<circle cx="359.95" cy="322.68" r="0.8" fill="#62aed2"/>
<circle cx="363.48" cy="318.46" r="0.8" fill="#35496c"/>
<circle cx="351.55" cy="321.26" r="0.8" fill="#62aed2"/>
<circle cx="381.37" cy="331.45" r="0.8" fill="#62aed2"/>
<circle cx="373.09" cy="319.43" r="0.8" fill="#62aed2"/>
<circle cx="379.18" cy="328.25" r="0.8" fill="#35496c"/>
<circle cx="371.24" cy="343.19" r="0.8" fill="#35496c"/>
<circle cx="354.43" cy="320.25" r="0.8" fill="#35496c"/>
<circle cx="372.8" cy="342.98" r="0.8" fill="#35496c"/>
<circle cx="368.61" cy="320.51" r="0.8" fill="#35496c"/>
<circle cx="374.28" cy="336.18" r="0.8" fill="#35496c"/>
<circle cx="370.63" cy="322.36" r="0.8" fill="#62aed2"/>
<circle cx="374.71" cy="324.02" r="0.8" fill="#62aed2"/>
<circle cx="371.63" cy="328.32" r="0.8" fill="#62aed2"/>
<circle cx="367.32" cy="324.96" r="0.8" fill="#62aed2"/>
<circle cx="370.18" cy="325.21" r="0.8" fill="#35496c"/>
<circle cx="359.75" cy="312.09" r="0.8" fill="#35496c"/>
<circle cx="368.02" cy="325.14" r="0.8" fill="#35496c"/>
<circle cx="370.23" cy="306.67" r="0.8" fill="#62aed2"/>
<circle cx="369.53" cy="303.09" r="0.8" fill="#62aed2"/>
<circle cx="363.72" cy="324.22" r="0.8" fill="#62aed2"/>
<circle cx="367.59" cy="327.24" r="0.8" fill="#35496c"/>
<circle cx="371.77" cy="319.3" r="0.8" fill="#62aed2"/>
<circle cx="361.94" cy="330.49" r="0.8" fill="#35496c"/>
<circle cx="374.62" cy="321.06" r="0.8" fill="#62aed2"/>
<circle cx="367.75" cy="323.92" r="0.8" fill="#62aed2"/>
<circle cx="370.63" cy="325.64" r="0.8" fill="#35496c"/>
<circle cx="370.78" cy="326.81" r="0.8" fill="#62aed2"/>
<circle cx="347.55" cy="321.51" r="0.8" fill="#62aed2"/>
<circle cx="374.45" cy="322.75" r="0.8" fill="#35496c"/>
<circle cx="368.95" cy="336.38" r="0.8" fill="#62aed2"/>
<circle cx="372.66" cy="308.05" r="0.8" fill="#35496c"/>
<circle cx="360.88" cy="328.68" r="0.8" fill="#35496c"/>
<circle cx="376.5" cy="325.27" r="0.8" fill="#35496c"/>
<circle cx="368.09" cy="315.68" r="0.8" fill="#35496c"/>
<circle cx="371.26" cy="329.6" r="0.8" fill="#35496c"/>
<circle cx="360.69" cy="321.55" r="0.8" fill="#35496c"/>
<circle cx="365.74" cy="317.63" r="0.8" fill="#62aed2"/>
<circle cx="380.79" cy="319.29" r="0.8" fill="#35496c"/>
<circle cx="359.13" cy="322.05" r="0.8" fill="#35496c"/>
<circle cx="361.04" cy="329.01" r="0.8" fill="#35496c"/>
<circle cx="380.23" cy="333.01" r="0.8" fill="#35496c"/>
<circle cx="352.21" cy="320.28" r="0.8" fill="#62aed2"/>
<circle cx="363.71" cy="350.77" r="0.8" fill="#35496c"/>
<circle cx="380.32" cy="324.82" r="0.8" fill="#35496c"/>
<circle cx="364.05" cy="340.99" r="0.8" fill="#62aed2"/>
<circle cx="377.18" cy="324.08" r="0.8" fill="#35496c"/>
<circle cx="363.89" cy="323.61" r="0.8" fill="#62aed2"/>
<circle cx="374.49" cy="326.66" r="0.8" fill="#35496c"/>
<circle cx="371.75" cy="321.42" r="0.8" fill="#62aed2"/>
<circle cx="372.46" cy="335.18" r="0.8" fill="#35496c"/>
<circle cx="356.78" cy="326.83" r="0.8" fill="#35496c"/>
<circle cx="371.76" cy="326.53" r="0.8" fill="#35496c"/>
<circle cx="375.31" cy="311.42" r="0.8" fill="#62aed2"/>
<circle cx="368.41" cy="320.91" r="0.8" fill="#62aed2"/>
<circle cx="371.05" cy="307.2" r="0.8" fill="#35496c"/>
<circle cx="363.81" cy="331.62" r="0.8" fill="#62aed2"/>
<circle cx="367.91" cy="335.14" r="0.8" fill="#35496c"/>
<circle cx="382" cy="317.93" r="0.8" fill="#62aed2"/>
<circle cx="372.24" cy="315.8" r="0.8" fill="#35496c"/>
<circle cx="363.2" cy="323.55" r="0.8" fill="#35496c"/>
<circle cx="361.77" cy="302.79" r="0.8" fill="#62aed2"/>
<circle cx="370.39" cy="318.91" r="0.8" fill="#35496c"/>
<circle cx="373.22" cy="322.92" r="0.8" fill="#35496c"/>
<circle cx="371.91" cy="324.73" r="0.8" fill="#62aed2"/>
<circle cx="379.81" cy="321.97" r="0.8" fill="#35496c"/>
<circle cx="367.44" cy="329.95" r="0.8" fill="#62aed2"/>
<circle cx="365.62" cy="313.24" r="0.8" fill="#35496c"/>
<circle cx="376.13" cy="331.08" r="0.8" fill="#62aed2"/>
<circle cx="369.12" cy="318.51" r="0.8" fill="#35496c"/>
<circle cx="367.75" cy="315.47" r="0.8" fill="#62aed2"/>
<circle cx="357.66" cy="326.79" r="0.8" fill="#35496c"/>
<circle cx="382.1" cy="322.47" r="0.8" fill="#62aed2"/>
<circle cx="373.97" cy="331.51" r="0.8" fill="#35496c"/>
<circle cx="356.19" cy="311.37" r="0.8" fill="#35496c"/>
<circle cx="360.41" cy="322.27" r="0.8" fill="#35496c"/>
<circle cx="364.67" cy="300.23" r="0.8" fill="#62aed2"/>
<circle cx="350.11" cy="327.4" r="0.8" fill="#35496c"/>
<circle cx="368.7" cy="308.35" r="0.8" fill="#62aed2"/>
<circle cx="372.2" cy="317.28" r="0.8" fill="#62aed2"/>
<circle cx="359.89" cy="331.51" r="0.8" fill="#62aed2"/>
<circle cx="368.24" cy="321.85" r="0.8" fill="#35496c"/>
<circle cx="365.28" cy="302.88" r="0.8" fill="#62aed2"/>
<circle cx="369.56" cy="321.3" r="0.8" fill="#62aed2"/>
<circle cx="367.68" cy="309.46" r="0.8" fill="#62aed2"/>
<circle cx="371.58" cy="319.95" r="0.8" fill="#62aed2"/>
<circle cx="369.53" cy="316.37" r="0.8" fill="#62aed2"/>
<circle cx="364.81" cy="319.64" r="0.8" fill="#62aed2"/>
<circle cx="375.69" cy="333.49" r="0.8" fill="#35496c"/>
<circle cx="368.78" cy="335.92" r="0.8" fill="#35496c"/>
<circle cx="374.46" cy="348.06" r="0.8" fill="#35496c"/>
<circle cx="377.64" cy="323.22" r="0.8" fill="#62aed2"/>
<circle cx="362.16" cy="308.94" r="0.8" fill="#35496c"/>
<circle cx="365.92" cy="314.96" r="0.8" fill="#35496c"/>
<circle cx="367.23" cy="322.96" r="0.8" fill="#35496c"/>
<circle cx="369.12" cy="316.82" r="0.8" fill="#62aed2"/>
<circle cx="370.64" cy="313.05" r="0.8" fill="#62aed2"/>
<circle cx="372.49" cy="303.57" r="0.8" fill="#35496c"/>
<circle cx="372.84" cy="331.36" r="0.8" fill="#35496c"/>
<circle cx="368.7" cy="324.39" r="0.8" fill="#62aed2"/>
<circle cx="376.01" cy="321.03" r="0.8" fill="#35496c"/>
<circle cx="363.01" cy="330.29" r="0.8" fill="#62aed2"/>
<circle cx="365.1" cy="336.51" r="0.8" fill="#35496c"/>
<circle cx="352.84" cy="317.68" r="0.8" fill="#35496c"/>
<circle cx="371.88" cy="315.4" r="0.8" fill="#62aed2"/>
<circle cx="372.1" cy="309.04" r="0.8" fill="#35496c"/>
<circle cx="370.79" cy="319.28" r="0.8" fill="#62aed2"/>
<circle cx="361.85" cy="330.77" r="0.8" fill="#62aed2"/>
<circle cx="372.13" cy="309.55" r="0.8" fill="#35496c"/>
<circle cx="369.89" cy="334" r="0.8" fill="#35496c"/>
<circle cx="365.76" cy="347.78" r="0.8" fill="#35496c"/>
<circle cx="372.06" cy="314.13" r="0.8" fill="#35496c"/>
<circle cx="367.75" cy="326.65" r="0.8" fill="#35496c"/>
<circle cx="373.06" cy="332.35" r="0.8" fill="#35496c"/>
<circle cx="382.35" cy="309.12" r="0.8" fill="#35496c"/>
<circle cx="357.95" cy="305.28" r="0.8" fill="#35496c"/>
<circle cx="373.48" cy="327.32" r="0.8" fill="#35496c"/>
<circle cx="365.85" cy="314.29" r="0.8" fill="#35496c"/>
<circle cx="370.53" cy="316" r="0.8" fill="#62aed2"/>
<circle cx="363.91" cy="315.5" r="0.8" fill="#62aed2"/>
<circle cx="360.56" cy="340.18" r="0.8" fill="#62aed2"/>
<circle cx="357.52" cy="322.75" r="0.8" fill="#62aed2"/>
<circle cx="368.42" cy="306.34" r="0.8" fill="#62aed2"/>
<circle cx="380.54" cy="316.41" r="0.8" fill="#62aed2"/>
<circle cx="366.29" cy="336.48" r="0.8" fill="#62aed2"/>
<circle cx="363.94" cy="330.42" r="0.8" fill="#35496c"/>
<circle cx="375.77" cy="320.55" r="0.8" fill="#35496c"/>
<circle cx="372.78" cy="319.02" r="0.8" fill="#62aed2"/>
<circle cx="370.25" cy="324.71" r="0.8" fill="#35496c"/>
<circle cx="358.38" cy="340.29" r="0.8" fill="#62aed2"/>
<circle cx="369.58" cy="312.32" r="0.8" fill="#35496c"/>
<circle cx="370.18" cy="341.87" r="0.8" fill="#35496c"/>
<circle cx="366.69" cy="336.92" r="0.8" fill="#35496c"/>
<circle cx="362.07" cy="343.87" r="0.8" fill="#35496c"/>
<circle cx="372.18" cy="328.27" r="0.8" fill="#35496c"/>
<circle cx="364.01" cy="326.64" r="0.8" fill="#35496c"/>
<circle cx="355.3" cy="299.8" r="0.8" fill="#35496c"/>
<circle cx="344.1" cy="305.1" r="0.8" fill="#35496c"/>
<circle cx="336.7" cy="312.5" r="0.8" fill="#35496c"/>
<circle cx="342" cy="323" r="0.8" fill="#35496c"/>
<circle cx="348.4" cy="317.8" r="0.8" fill="#35496c"/>
<circle cx="368.5" cy="297.7" r="0.8" fill="#35496c"/>
<circle cx="380" cy="300.9" r="0.8" fill="#35496c"/>
<circle cx="389.6" cy="314.6" r="0.8" fill="#35496c"/>
<circle cx="389.6" cy="339" r="0.8" fill="#35496c"/>
<circle cx="376.9" cy="349.5" r="0.8" fill="#35496c"/>
<circle cx="370.6" cy="345.3" r="0.8" fill="#35496c"/>
<polyline points="320.9,310.6 368,320.5 398,324" fill="none" stroke="#ebb0bf" stroke-width="0.6" stroke-linejoin="miter"/>
<polyline points="320.9,322.1 368,323.5 398,329.4" fill="none" stroke="#ebb0bf" stroke-width="0.6" stroke-linejoin="miter"/>
<polyline points="320.9,316 398,326.3" fill="none" stroke="#c4405f" stroke-width="0.8" stroke-linejoin="miter"/>
<text x="311.25" y="340.6" font-size="6.5" fill="#231f20" text-anchor="start">R<tspan font-size="4" dy="-2.5">2</tspan></text>
<text x="311.25" y="347.4" font-size="6.5" fill="#231f20" text-anchor="start">r</text>
<text x="311.25" y="354.3" font-size="6.5" fill="#231f20" text-anchor="start">P</text>
<text x="323.75" y="340.6" font-size="6.3" fill="#231f20" text-anchor="start">0.0237</text>
<text x="323.75" y="347.4" font-size="6.3" fill="#231f20" text-anchor="start">−0.1539</text>
<text x="323.75" y="354.3" font-size="6.3" fill="#231f20" text-anchor="start">0.0485</text>
<text x="311.15" y="379.8" font-size="8.2" fill="#231f20" text-anchor="start" font-weight="bold" textLength="94.6" lengthAdjust="spacingAndGlyphs"><tspan font-style="italic">STAT3</tspan> (log2 RSEM HiSeq_RNASeqV2)</text>
<text x="290.65" y="372.7" font-size="8" fill="#231f20" text-anchor="start" font-weight="bold" textLength="100.8" lengthAdjust="spacingAndGlyphs" transform="rotate(-90 290.65 372.7)"><tspan font-style="italic">CXCR4</tspan> (log2 RSEM HiSeq_RNASeqV2)</text>
<text x="191.25" y="276" font-size="8.5" fill="#231f20" text-anchor="start" textLength="50" lengthAdjust="spacingAndGlyphs">TCGA (LAML)</text>
<line x1="216.25" y1="289.5" x2="216.25" y2="357.6" stroke="#231f20" stroke-width="1" />
<line x1="213.75" y1="291" x2="216.25" y2="291" stroke="#231f20" stroke-width="0.9" />
<text x="211.75" y="293.3" font-size="6.5" fill="#383838" text-anchor="end">4</text>
<line x1="213.75" y1="305.3" x2="216.25" y2="305.3" stroke="#231f20" stroke-width="0.9" />
<text x="211.75" y="307.6" font-size="6.5" fill="#383838" text-anchor="end">2</text>
<line x1="213.75" y1="318.5" x2="216.25" y2="318.5" stroke="#231f20" stroke-width="0.9" />
<text x="211.75" y="320.8" font-size="6.5" fill="#383838" text-anchor="end">0</text>
<line x1="213.75" y1="331.4" x2="216.25" y2="331.4" stroke="#231f20" stroke-width="0.9" />
<text x="211.75" y="333.7" font-size="6.5" fill="#383838" text-anchor="end">−2</text>
<line x1="213.75" y1="344.6" x2="216.25" y2="344.6" stroke="#231f20" stroke-width="0.9" />
<text x="211.75" y="346.9" font-size="6.5" fill="#383838" text-anchor="end">−4</text>
<line x1="213.75" y1="357.6" x2="216.25" y2="357.6" stroke="#231f20" stroke-width="0.9" />
<text x="211.75" y="359.9" font-size="6.5" fill="#383838" text-anchor="end">−6</text>
<line x1="214.75" y1="298.1" x2="216.25" y2="298.1" stroke="#231f20" stroke-width="0.7" />
<line x1="214.75" y1="311.9" x2="216.25" y2="311.9" stroke="#231f20" stroke-width="0.7" />
<line x1="214.75" y1="325" x2="216.25" y2="325" stroke="#231f20" stroke-width="0.7" />
<line x1="214.75" y1="338" x2="216.25" y2="338" stroke="#231f20" stroke-width="0.7" />
<line x1="214.75" y1="351.1" x2="216.25" y2="351.1" stroke="#231f20" stroke-width="0.7" />
<line x1="216.25" y1="318.5" x2="260.25" y2="318.5" stroke="#aaa" stroke-width="0.6" />
<line x1="216.25" y1="357.6" x2="257.25" y2="357.6" stroke="#231f20" stroke-width="1.1" />
<line x1="228.5" y1="357.6" x2="228.5" y2="360.1" stroke="#231f20" stroke-width="0.9" />
<line x1="247.3" y1="357.6" x2="247.3" y2="360.1" stroke="#231f20" stroke-width="0.9" />
<polygon points="228.2,304.5 227.3,306.5 226.3,308.7 225.3,311 224.2,313 223.5,315.5 222.8,318 223.1,320 223.5,321.7 224.7,323.5 226,325.3 226.9,327 227.5,328.5 227.7,331 227,332.5 226.9,334 227.5,335.5 228.2,338 228.8,338 229.5,335.5 230.1,334 230,332.5 229.3,331 229.5,328.5 230.1,327 231,325.3 232.3,323.5 233.5,321.7 233.9,320 234.2,318 233.5,315.5 232.8,313 231.7,311 230.7,308.7 229.7,306.5 228.8,304.5" fill="#f5890f" stroke="#f5890f" stroke-width="0.4"/>
<line x1="224.71" y1="314.55" x2="232.29" y2="314.55" stroke="#fde0b8" stroke-width="0.45" stroke-dasharray="1,0.8" opacity="0.55"/>
<line x1="224.13" y1="319.57" x2="232.87" y2="319.57" stroke="#fde0b8" stroke-width="0.45" stroke-dasharray="1,0.8" opacity="0.55"/>
<line x1="226.1" y1="324.6" x2="230.9" y2="324.6" stroke="#fde0b8" stroke-width="0.45" stroke-dasharray="1,0.8" opacity="0.55"/>
<polygon points="247.1,299.5 246.3,302 244.4,305 243.3,308.7 242.1,311.5 241.3,313.8 242.3,315.5 243.3,317.4 242.1,319.5 242.7,321 243.8,323 244.7,325 245.3,327.4 246.3,329.5 246.9,331 247.7,331 248.3,329.5 249.3,327.4 249.9,325 250.8,323 251.9,321 252.5,319.5 251.3,317.4 252.3,315.5 253.3,313.8 252.5,311.5 251.3,308.7 250.2,305 248.3,302 247.5,299.5" fill="#22a7e0" stroke="#22a7e0" stroke-width="0.4"/>
<line x1="244.01" y1="308.95" x2="250.59" y2="308.95" stroke="#c8ecfb" stroke-width="0.45" stroke-dasharray="1,0.8" opacity="0.55"/>
<line x1="243.18" y1="315.25" x2="251.42" y2="315.25" stroke="#c8ecfb" stroke-width="0.45" stroke-dasharray="1,0.8" opacity="0.55"/>
<line x1="243.59" y1="320.92" x2="251.01" y2="320.92" stroke="#c8ecfb" stroke-width="0.45" stroke-dasharray="1,0.8" opacity="0.55"/>
<line x1="228.5" y1="318.5" x2="228.51" y2="318.5" stroke="#ddd" stroke-width="1" />
<polyline points="228.5,293.6 228.5,289.3 247.3,289.3 247.3,293.6" fill="none" stroke="#333" stroke-width="0.8" stroke-linejoin="miter"/>
<text x="237.9" y="290.2" font-size="7.5" fill="#231f20" text-anchor="middle">**</text>
<text x="179.6" y="355.5" font-size="7.9" fill="#231f20" text-anchor="start" font-weight="bold" textLength="65.5" lengthAdjust="spacingAndGlyphs" transform="rotate(-90 179.6 355.5)"><tspan font-style="italic">CXCR2</tspan> (mRNA expression</text>
<text x="189.1" y="356.2" font-size="7.9" fill="#231f20" text-anchor="start" font-weight="bold" textLength="64.8" lengthAdjust="spacingAndGlyphs" transform="rotate(-90 189.1 356.2)">z-scores rel. to all samples</text>
<text x="199.4" y="354.7" font-size="7.9" fill="#231f20" text-anchor="start" font-weight="bold" textLength="61.7" lengthAdjust="spacingAndGlyphs" transform="rotate(-90 199.4 354.7)">(log RNA Seq V2 RSEM))</text>
<text x="231.5" y="366.3" font-size="6.2" fill="#231f20" text-anchor="end" transform="rotate(-45 231.5 366.3)">high STAT3</text>
<text x="250.3" y="366.8" font-size="6.2" fill="#231f20" text-anchor="end" transform="rotate(-45 250.3 366.8)">low STAT3</text>
<text x="445" y="276" font-size="8.5" fill="#231f20" text-anchor="start" textLength="50" lengthAdjust="spacingAndGlyphs">TCGA (LAML)</text>
<line x1="469.5" y1="289.5" x2="469.5" y2="357.6" stroke="#231f20" stroke-width="1" />
<line x1="467" y1="291" x2="469.5" y2="291" stroke="#231f20" stroke-width="0.9" />
<text x="465" y="293.3" font-size="6.5" fill="#383838" text-anchor="end">4</text>
<line x1="467" y1="305.3" x2="469.5" y2="305.3" stroke="#231f20" stroke-width="0.9" />
<text x="465" y="307.6" font-size="6.5" fill="#383838" text-anchor="end">2</text>
<line x1="467" y1="318.5" x2="469.5" y2="318.5" stroke="#231f20" stroke-width="0.9" />
<text x="465" y="320.8" font-size="6.5" fill="#383838" text-anchor="end">0</text>
<line x1="467" y1="331.4" x2="469.5" y2="331.4" stroke="#231f20" stroke-width="0.9" />
<text x="465" y="333.7" font-size="6.5" fill="#383838" text-anchor="end">−2</text>
<line x1="467" y1="344.6" x2="469.5" y2="344.6" stroke="#231f20" stroke-width="0.9" />
<text x="465" y="346.9" font-size="6.5" fill="#383838" text-anchor="end">−4</text>
<line x1="467" y1="357.6" x2="469.5" y2="357.6" stroke="#231f20" stroke-width="0.9" />
<text x="465" y="359.9" font-size="6.5" fill="#383838" text-anchor="end">−6</text>
<line x1="468" y1="298.1" x2="469.5" y2="298.1" stroke="#231f20" stroke-width="0.7" />
<line x1="468" y1="311.9" x2="469.5" y2="311.9" stroke="#231f20" stroke-width="0.7" />
<line x1="468" y1="325" x2="469.5" y2="325" stroke="#231f20" stroke-width="0.7" />
<line x1="468" y1="338" x2="469.5" y2="338" stroke="#231f20" stroke-width="0.7" />
<line x1="468" y1="351.1" x2="469.5" y2="351.1" stroke="#231f20" stroke-width="0.7" />
<line x1="469.5" y1="318.5" x2="513.5" y2="318.5" stroke="#aaa" stroke-width="0.6" />
<line x1="469.5" y1="357.6" x2="510.5" y2="357.6" stroke="#231f20" stroke-width="1.1" />
<line x1="481.8" y1="357.6" x2="481.8" y2="360.1" stroke="#231f20" stroke-width="0.9" />
<line x1="500.7" y1="357.6" x2="500.7" y2="360.1" stroke="#231f20" stroke-width="0.9" />
<polygon points="481.5,305.5 480.6,307 479.6,308.7 478.6,311 477.8,313 477.2,315.5 476.8,317.4 476,319.5 475.7,321 476.8,322.5 478.8,324.5 479.8,326.5 480.3,328 480.8,330 480.6,331.5 480.4,333 481,334.5 481.5,337 482.1,337 482.6,334.5 483.2,333 483,331.5 482.8,330 483.3,328 483.8,326.5 484.8,324.5 486.8,322.5 487.9,321 487.6,319.5 486.8,317.4 486.4,315.5 485.8,313 485,311 484,308.7 483,307 482.1,305.5" fill="#f5890f" stroke="#f5890f" stroke-width="0.4"/>
<line x1="478.23" y1="314.95" x2="485.37" y2="314.95" stroke="#fde0b8" stroke-width="0.45" stroke-dasharray="1,0.8" opacity="0.55"/>
<line x1="477.13" y1="319.68" x2="486.47" y2="319.68" stroke="#fde0b8" stroke-width="0.45" stroke-dasharray="1,0.8" opacity="0.55"/>
<line x1="479.32" y1="324.4" x2="484.28" y2="324.4" stroke="#fde0b8" stroke-width="0.45" stroke-dasharray="1,0.8" opacity="0.55"/>
<polygon points="500.5,301.5 499.7,303.7 498.7,305 498.2,306.6 498.5,308.5 498.9,310 497.2,312 495.7,313.8 495.2,317.4 495.9,319.5 496.7,321.7 497.5,324 498.2,326 499.1,328 499.7,329.6 500.4,331.5 501,331.5 501.7,329.6 502.3,328 503.2,326 503.9,324 504.7,321.7 505.5,319.5 506.2,317.4 505.7,313.8 504.2,312 502.5,310 502.9,308.5 503.2,306.6 502.7,305 501.7,303.7 500.9,301.5" fill="#22a7e0" stroke="#22a7e0" stroke-width="0.4"/>
<line x1="498.92" y1="310.5" x2="502.48" y2="310.5" stroke="#c8ecfb" stroke-width="0.45" stroke-dasharray="1,0.8" opacity="0.55"/>
<line x1="496.4" y1="316.5" x2="505" y2="316.5" stroke="#c8ecfb" stroke-width="0.45" stroke-dasharray="1,0.8" opacity="0.55"/>
<line x1="497.56" y1="321.9" x2="503.84" y2="321.9" stroke="#c8ecfb" stroke-width="0.45" stroke-dasharray="1,0.8" opacity="0.55"/>
<line x1="481.8" y1="318.5" x2="481.81" y2="318.5" stroke="#ddd" stroke-width="1" />
<polyline points="481.8,293.6 481.8,289.3 500.7,289.3 500.7,293.6" fill="none" stroke="#333" stroke-width="0.8" stroke-linejoin="miter"/>
<text x="491.25" y="290.2" font-size="7.5" fill="#231f20" text-anchor="middle">*</text>
<text x="432.8" y="355.5" font-size="7.9" fill="#231f20" text-anchor="start" font-weight="bold" textLength="65.5" lengthAdjust="spacingAndGlyphs" transform="rotate(-90 432.8 355.5)"><tspan font-style="italic">CXCR4</tspan> (mRNA expression</text>
<text x="442.8" y="356.2" font-size="7.9" fill="#231f20" text-anchor="start" font-weight="bold" textLength="64.8" lengthAdjust="spacingAndGlyphs" transform="rotate(-90 442.8 356.2)">z-scores rel. to all samples</text>
<text x="452.8" y="354.7" font-size="7.9" fill="#231f20" text-anchor="start" font-weight="bold" textLength="61.7" lengthAdjust="spacingAndGlyphs" transform="rotate(-90 452.8 354.7)">(log RNA Seq V2 RSEM))</text>
<text x="484.8" y="366.3" font-size="6.2" fill="#231f20" text-anchor="end" transform="rotate(-45 484.8 366.3)">high STAT3</text>
<text x="503.7" y="366.8" font-size="6.2" fill="#231f20" text-anchor="end" transform="rotate(-45 503.7 366.8)">low STAT3</text>
<text x="106" y="409.3" font-size="8.5" fill="#231f20" text-anchor="start" textLength="72.8" lengthAdjust="spacingAndGlyphs">LEUKEGENE (AML)</text>
<line x1="36.4" y1="428.5" x2="36.4" y2="497" stroke="#231f20" stroke-width="1" />
<line x1="33.4" y1="430.2" x2="36.4" y2="430.2" stroke="#231f20" stroke-width="0.9" />
<text x="30.1" y="432.8" font-size="7.3" fill="#333" text-anchor="end">10</text>
<line x1="33.4" y1="444" x2="36.4" y2="444" stroke="#231f20" stroke-width="0.9" />
<text x="30.1" y="446.6" font-size="7.3" fill="#333" text-anchor="end">8</text>
<line x1="33.4" y1="457.4" x2="36.4" y2="457.4" stroke="#231f20" stroke-width="0.9" />
<text x="30.1" y="460" font-size="7.3" fill="#333" text-anchor="end">6</text>
<line x1="33.4" y1="470.6" x2="36.4" y2="470.6" stroke="#231f20" stroke-width="0.9" />
<text x="30.1" y="473.2" font-size="7.3" fill="#333" text-anchor="end">4</text>
<line x1="33.4" y1="483.9" x2="36.4" y2="483.9" stroke="#231f20" stroke-width="0.9" />
<text x="30.1" y="486.5" font-size="7.3" fill="#333" text-anchor="end">2</text>
<line x1="33.4" y1="497" x2="36.4" y2="497" stroke="#231f20" stroke-width="0.9" />
<text x="30.1" y="499.6" font-size="7.3" fill="#333" text-anchor="end">0</text>
<line x1="34.9" y1="437.1" x2="36.4" y2="437.1" stroke="#231f20" stroke-width="0.7" />
<line x1="34.9" y1="450.7" x2="36.4" y2="450.7" stroke="#231f20" stroke-width="0.7" />
<line x1="34.9" y1="464" x2="36.4" y2="464" stroke="#231f20" stroke-width="0.7" />
<line x1="34.9" y1="477.3" x2="36.4" y2="477.3" stroke="#231f20" stroke-width="0.7" />
<line x1="34.9" y1="490.5" x2="36.4" y2="490.5" stroke="#231f20" stroke-width="0.7" />
<line x1="36.4" y1="497" x2="79.5" y2="497" stroke="#231f20" stroke-width="1.1" />
<line x1="48.5" y1="497" x2="48.5" y2="500" stroke="#231f20" stroke-width="0.9" />
<line x1="67.5" y1="497" x2="67.5" y2="500" stroke="#231f20" stroke-width="0.9" />
<polygon points="48.2,442.4 46,443.5 42.8,445.2 45,446.9 44,448.6 45.3,450.4 44.5,451.7 46,453.5 46,454.9 47.7,456.6 48.3,457.6 48.7,457.6 49.3,456.6 51,454.9 51,453.5 52.5,451.7 51.7,450.4 53,448.6 52,446.9 54.2,445.2 51,443.5 48.8,442.4" fill="#a9c792" stroke="#a9c792" stroke-width="0.4"/>
<line x1="45.67" y1="446.96" x2="51.33" y2="446.96" stroke="#e6f0dc" stroke-width="0.45" stroke-dasharray="1,0.8" opacity="0.55"/>
<line x1="45.71" y1="450" x2="51.29" y2="450" stroke="#e6f0dc" stroke-width="0.45" stroke-dasharray="1,0.8" opacity="0.55"/>
<line x1="46.19" y1="453.04" x2="50.81" y2="453.04" stroke="#e6f0dc" stroke-width="0.45" stroke-dasharray="1,0.8" opacity="0.55"/>
<polygon points="67.2,436.5 67,438.6 65,441 64,443.1 62,444.5 63.5,445.9 61.7,447.2 64,449.3 66,451 67,452.5 67.2,455.5 67.8,455.5 68,452.5 69,451 71,449.3 73.3,447.2 71.5,445.9 73,444.5 71,443.1 70,441 68,438.6 67.8,436.5" fill="#1b6a4f" stroke="#1b6a4f" stroke-width="0.4"/>
<line x1="64.64" y1="443.15" x2="70.36" y2="443.15" stroke="#8fd0b8" stroke-width="0.45" stroke-dasharray="1,0.8" opacity="0.55"/>
<line x1="64.19" y1="446" x2="70.81" y2="446" stroke="#8fd0b8" stroke-width="0.45" stroke-dasharray="1,0.8" opacity="0.55"/>
<line x1="64.31" y1="448.85" x2="70.69" y2="448.85" stroke="#8fd0b8" stroke-width="0.45" stroke-dasharray="1,0.8" opacity="0.55"/>
<polyline points="48.5,436.3 48.5,426 67.5,426 67.5,430.2" fill="none" stroke="#333" stroke-width="0.8" stroke-linejoin="miter"/>
<text x="58" y="426.9" font-size="7.5" fill="#231f20" text-anchor="middle">****</text>
<text x="15.9" y="509.5" font-size="8.2" fill="#231f20" text-anchor="start" font-weight="bold" font-style="italic" textLength="92.3" lengthAdjust="spacingAndGlyphs" transform="rotate(-90 15.9 509.5)">STAT3 expression (log2 fold change)</text>
<text x="52" y="505" font-size="7.8" fill="#231f20" text-anchor="end" stroke="#231f20" stroke-width="0.2" transform="rotate(-45 52 505)">MLL-Fusion</text>
<text x="71" y="505" font-size="7.8" fill="#231f20" text-anchor="end" stroke="#231f20" stroke-width="0.2" transform="rotate(-45 71 505)">non-MLL-Fusion</text>
<line x1="121.1" y1="428.5" x2="121.1" y2="497" stroke="#231f20" stroke-width="1" />
<line x1="118.1" y1="430.2" x2="121.1" y2="430.2" stroke="#231f20" stroke-width="0.9" />
<text x="114.8" y="432.8" font-size="7.3" fill="#333" text-anchor="end">10</text>
<line x1="118.1" y1="447.3" x2="121.1" y2="447.3" stroke="#231f20" stroke-width="0.9" />
<text x="114.8" y="449.9" font-size="7.3" fill="#333" text-anchor="end">5</text>
<line x1="118.1" y1="464.1" x2="121.1" y2="464.1" stroke="#231f20" stroke-width="0.9" />
<text x="114.8" y="466.7" font-size="7.3" fill="#333" text-anchor="end">0</text>
<line x1="118.1" y1="480.2" x2="121.1" y2="480.2" stroke="#231f20" stroke-width="0.9" />
<text x="114.8" y="482.8" font-size="7.3" fill="#333" text-anchor="end">−5</text>
<line x1="118.1" y1="497" x2="121.1" y2="497" stroke="#231f20" stroke-width="0.9" />
<text x="114.8" y="499.6" font-size="7.3" fill="#333" text-anchor="end">−10</text>
<line x1="119.6" y1="438.8" x2="121.1" y2="438.8" stroke="#231f20" stroke-width="0.7" />
<line x1="119.6" y1="455.7" x2="121.1" y2="455.7" stroke="#231f20" stroke-width="0.7" />
<line x1="119.6" y1="472.2" x2="121.1" y2="472.2" stroke="#231f20" stroke-width="0.7" />
<line x1="119.6" y1="488.6" x2="121.1" y2="488.6" stroke="#231f20" stroke-width="0.7" />
<line x1="121.1" y1="464.1" x2="164.1" y2="464.1" stroke="#b5b5b5" stroke-width="0.6" />
<line x1="121.1" y1="497" x2="163.75" y2="497" stroke="#231f20" stroke-width="1.1" />
<line x1="133.2" y1="497" x2="133.2" y2="500" stroke="#231f20" stroke-width="0.9" />
<line x1="151.8" y1="497" x2="151.8" y2="500" stroke="#231f20" stroke-width="0.9" />
<polygon points="132.7,447.7 131.2,450 130.2,453 129.2,456 126.7,459 128.2,461 132.2,463 134.2,463 138.2,461 139.7,459 137.2,456 136.2,453 135.2,450 133.7,447.7" fill="#a9c792" stroke="#a9c792" stroke-width="0.4"/>
<line x1="130.99" y1="452.29" x2="135.41" y2="452.29" stroke="#e6f0dc" stroke-width="0.45" stroke-dasharray="1,0.8" opacity="0.55"/>
<line x1="130.17" y1="455.35" x2="136.23" y2="455.35" stroke="#e6f0dc" stroke-width="0.45" stroke-dasharray="1,0.8" opacity="0.55"/>
<line x1="128.39" y1="458.41" x2="138.01" y2="458.41" stroke="#e6f0dc" stroke-width="0.45" stroke-dasharray="1,0.8" opacity="0.55"/>
<polygon points="151.5,441.5 150.3,444 148.8,447 147.3,451 146.4,455 146.3,458 146.6,462 147.8,466 149.1,470 150.3,474 151,477 151.5,480 152.1,480 152.6,477 153.3,474 154.5,470 155.8,466 157,462 157.3,458 157.2,455 156.3,451 154.8,447 153.3,444 152.1,441.5" fill="#1b6a4f" stroke="#1b6a4f" stroke-width="0.4"/>
<line x1="147.48" y1="454.98" x2="156.12" y2="454.98" stroke="#8fd0b8" stroke-width="0.45" stroke-dasharray="1,0.8" opacity="0.55"/>
<line x1="147.56" y1="460.75" x2="156.04" y2="460.75" stroke="#8fd0b8" stroke-width="0.45" stroke-dasharray="1,0.8" opacity="0.55"/>
<line x1="148.74" y1="466.52" x2="154.86" y2="466.52" stroke="#8fd0b8" stroke-width="0.45" stroke-dasharray="1,0.8" opacity="0.55"/>
<polyline points="133.2,440.2 133.2,430.2 151.8,430.2 151.8,434" fill="none" stroke="#333" stroke-width="0.8" stroke-linejoin="miter"/>
<text x="142.5" y="431.1" font-size="7.5" fill="#231f20" text-anchor="middle">**</text>
<text x="94.8" y="509.5" font-size="8.2" fill="#231f20" text-anchor="start" font-weight="bold" font-style="italic" textLength="92.3" lengthAdjust="spacingAndGlyphs" transform="rotate(-90 94.8 509.5)">CXCR2 expression (log2 fold change)</text>
<text x="136.7" y="505" font-size="7.8" fill="#231f20" text-anchor="end" stroke="#231f20" stroke-width="0.2" transform="rotate(-45 136.7 505)">MLL-Fusion</text>
<text x="155.3" y="505" font-size="7.8" fill="#231f20" text-anchor="end" stroke="#231f20" stroke-width="0.2" transform="rotate(-45 155.3 505)">non-MLL-Fusion</text>
<line x1="201.4" y1="428.5" x2="201.4" y2="497" stroke="#231f20" stroke-width="1" />
<line x1="198.4" y1="430.2" x2="201.4" y2="430.2" stroke="#231f20" stroke-width="0.9" />
<text x="195.1" y="432.8" font-size="7.3" fill="#333" text-anchor="end">15</text>
<line x1="198.4" y1="453.1" x2="201.4" y2="453.1" stroke="#231f20" stroke-width="0.9" />
<text x="195.1" y="455.7" font-size="7.3" fill="#333" text-anchor="end">10</text>
<line x1="198.4" y1="474.8" x2="201.4" y2="474.8" stroke="#231f20" stroke-width="0.9" />
<text x="195.1" y="477.4" font-size="7.3" fill="#333" text-anchor="end">5</text>
<line x1="198.4" y1="497" x2="201.4" y2="497" stroke="#231f20" stroke-width="0.9" />
<text x="195.1" y="499.6" font-size="7.3" fill="#333" text-anchor="end">0</text>
<line x1="199.9" y1="441.6" x2="201.4" y2="441.6" stroke="#231f20" stroke-width="0.7" />
<line x1="199.9" y1="463.9" x2="201.4" y2="463.9" stroke="#231f20" stroke-width="0.7" />
<line x1="199.9" y1="485.9" x2="201.4" y2="485.9" stroke="#231f20" stroke-width="0.7" />
<line x1="201.4" y1="497" x2="243.75" y2="497" stroke="#231f20" stroke-width="1.1" />
<line x1="213.6" y1="497" x2="213.6" y2="500" stroke="#231f20" stroke-width="0.9" />
<line x1="232.3" y1="497" x2="232.3" y2="500" stroke="#231f20" stroke-width="0.9" />
<polygon points="213.3,444.6 212.1,446.5 210.1,449 209.1,452 208.1,455 207.4,457.5 208.6,460 209.4,462 211.1,464 213.1,465.5 214.1,465.5 216.1,464 217.8,462 218.6,460 219.8,457.5 219.1,455 218.1,452 217.1,449 215.1,446.5 213.9,444.6" fill="#a9c792" stroke="#a9c792" stroke-width="0.4"/>
<line x1="210.3" y1="450.87" x2="216.9" y2="450.87" stroke="#e6f0dc" stroke-width="0.45" stroke-dasharray="1,0.8" opacity="0.55"/>
<line x1="209.19" y1="455.05" x2="218.01" y2="455.05" stroke="#e6f0dc" stroke-width="0.45" stroke-dasharray="1,0.8" opacity="0.55"/>
<line x1="209.3" y1="459.23" x2="217.9" y2="459.23" stroke="#e6f0dc" stroke-width="0.45" stroke-dasharray="1,0.8" opacity="0.55"/>
<polygon points="232,447.7 229.8,450 227.8,453 226.8,456 225.8,459 227.3,462 228.8,465 230.3,468 231.3,471 231.7,474 232,478 232.6,478 232.9,474 233.3,471 234.3,468 235.8,465 237.3,462 238.8,459 237.8,456 236.8,453 234.8,450 232.6,447.7" fill="#1b6a4f" stroke="#1b6a4f" stroke-width="0.4"/>
<line x1="227.29" y1="458.31" x2="237.31" y2="458.31" stroke="#8fd0b8" stroke-width="0.45" stroke-dasharray="1,0.8" opacity="0.55"/>
<line x1="228.64" y1="462.85" x2="235.96" y2="462.85" stroke="#8fd0b8" stroke-width="0.45" stroke-dasharray="1,0.8" opacity="0.55"/>
<line x1="230.46" y1="467.39" x2="234.14" y2="467.39" stroke="#8fd0b8" stroke-width="0.45" stroke-dasharray="1,0.8" opacity="0.55"/>
<polyline points="213.6,442.4 213.6,434 232.3,434 232.3,440.2" fill="none" stroke="#333" stroke-width="0.8" stroke-linejoin="miter"/>
<text x="222.95" y="434.9" font-size="7.5" fill="#231f20" text-anchor="middle">**</text>
<text x="180.2" y="509.5" font-size="8.2" fill="#231f20" text-anchor="start" font-weight="bold" font-style="italic" textLength="92.3" lengthAdjust="spacingAndGlyphs" transform="rotate(-90 180.2 509.5)">CXCR4 expression (log2 fold change)</text>
<text x="217.1" y="505" font-size="7.8" fill="#231f20" text-anchor="end" stroke="#231f20" stroke-width="0.2" transform="rotate(-45 217.1 505)">MLL-Fusion</text>
<text x="235.8" y="505" font-size="7.8" fill="#231f20" text-anchor="end" stroke="#231f20" stroke-width="0.2" transform="rotate(-45 235.8 505)">non-MLL-Fusion</text>
<text x="316.25" y="411.8" font-size="8.6" fill="#231f20" text-anchor="start" textLength="28" lengthAdjust="spacingAndGlyphs">CXCR2</text>
<line x1="280" y1="416.5" x2="280" y2="497.8" stroke="#231f20" stroke-width="1" />
<line x1="277.5" y1="419.4" x2="280" y2="419.4" stroke="#231f20" stroke-width="0.9" />
<text x="274.2" y="421.8" font-size="6.7" fill="#444" text-anchor="end">1.0</text>
<line x1="277.5" y1="435" x2="280" y2="435" stroke="#231f20" stroke-width="0.9" />
<text x="274.2" y="437.4" font-size="6.7" fill="#444" text-anchor="end">0.8</text>
<line x1="277.5" y1="450.7" x2="280" y2="450.7" stroke="#231f20" stroke-width="0.9" />
<text x="274.2" y="453.1" font-size="6.7" fill="#444" text-anchor="end">0.6</text>
<line x1="277.5" y1="466.3" x2="280" y2="466.3" stroke="#231f20" stroke-width="0.9" />
<text x="274.2" y="468.7" font-size="6.7" fill="#444" text-anchor="end">0.4</text>
<line x1="277.5" y1="482" x2="280" y2="482" stroke="#231f20" stroke-width="0.9" />
<text x="274.2" y="484.4" font-size="6.7" fill="#444" text-anchor="end">0.2</text>
<line x1="277.5" y1="497.5" x2="280" y2="497.5" stroke="#231f20" stroke-width="0.9" />
<text x="274.2" y="499.9" font-size="6.7" fill="#444" text-anchor="end">0.0</text>
<line x1="279" y1="500.5" x2="381.25" y2="500.5" stroke="#231f20" stroke-width="1.1" />
<line x1="283.25" y1="500.5" x2="283.25" y2="503" stroke="#231f20" stroke-width="0.9" />
<text x="283.25" y="511.8" font-size="7.1" fill="#444" text-anchor="middle">0</text>
<line x1="302.75" y1="500.5" x2="302.75" y2="503" stroke="#231f20" stroke-width="0.9" />
<text x="302.75" y="511.8" font-size="7.1" fill="#444" text-anchor="middle">20</text>
<line x1="322.25" y1="500.5" x2="322.25" y2="503" stroke="#231f20" stroke-width="0.9" />
<text x="322.25" y="511.8" font-size="7.1" fill="#444" text-anchor="middle">40</text>
<line x1="341.75" y1="500.5" x2="341.75" y2="503" stroke="#231f20" stroke-width="0.9" />
<text x="341.75" y="511.8" font-size="7.1" fill="#444" text-anchor="middle">60</text>
<line x1="361.25" y1="500.5" x2="361.25" y2="503" stroke="#231f20" stroke-width="0.9" />
<text x="361.25" y="511.8" font-size="7.1" fill="#444" text-anchor="middle">80</text>
<text x="329.75" y="523.4" font-size="8.2" fill="#231f20" text-anchor="middle" stroke="#231f20" stroke-width="0.3" textLength="43.5" lengthAdjust="spacingAndGlyphs">OS time (months)</text>
<text x="377.25" y="423" font-size="6.5" fill="#231f20" text-anchor="end" textLength="65" lengthAdjust="spacingAndGlyphs">HR = 0.61 (0.38 − 0.99)</text>
<text x="377.25" y="430.8" font-size="6.5" fill="#231f20" text-anchor="end" textLength="44" lengthAdjust="spacingAndGlyphs">logrank <tspan font-style="italic">P</tspan> = .043</text>
<text x="281.95" y="484.8" font-size="6.5" fill="#231f20" text-anchor="start" textLength="27.7" lengthAdjust="spacingAndGlyphs">Expression</text>
<line x1="281.95" y1="489.5" x2="290.55" y2="489.5" stroke="#5a8fb8" stroke-width="0.8" />
<text x="293.45" y="491.8" font-size="6.5" fill="#231f20" text-anchor="start" textLength="9.2" lengthAdjust="spacingAndGlyphs">low</text>
<line x1="281.95" y1="495.7" x2="290.55" y2="495.7" stroke="#cc4a66" stroke-width="0.8" />
<text x="293.45" y="497.6" font-size="6.5" fill="#231f20" text-anchor="start" textLength="11.3" lengthAdjust="spacingAndGlyphs">high</text>
<polyline points="284.2,420.3 284.2,420.3 284.2,427 285.5,427 285.5,431 286.5,431 286.5,435 287.4,435 287.4,438.3 288.5,438.3 288.5,442 289.5,442 289.5,446 290.6,446 290.6,449.9 291.6,449.9 291.6,459.4 293.5,459.4 293.5,460.5 295.9,460.5 295.9,462.6 298,462.6 298,463.5 300.1,463.5 300.1,464.7 304,464.7 304,466 307.5,466 307.5,470.4 315,470.4 315,471 329.7,471 329.7,472.1 329.7,472.1 329.7,484.4 337.1,484.4 337.1,484.4 337.1,484.4 337.1,490.5 365.7,490.5 365.7,490.5" fill="none" stroke="#5a8fb8" stroke-width="0.8" stroke-linejoin="miter"/>
<polyline points="284.2,420.3 286,420.3 286,423 288,423 288,425.5 289.5,425.5 289.5,427.7 291,427.7 291,433 292.5,433 292.5,438 293.5,438 293.5,443 294.8,443 294.8,447.8 297,447.8 297,450 300.1,450 300.1,453.1 302,453.1 302,456 303.3,456 303.3,458.4 306,458.4 306,460.5 308.6,460.5 308.6,462.6 310,462.6 310,466 311.7,466 311.7,469 314.9,469 314.9,471 329.7,471 329.7,472.1 333,472.1 333,474 339.2,474 339.2,476.3 377.3,476.3 377.3,476.3" fill="none" stroke="#cc4a66" stroke-width="0.8" stroke-linejoin="miter"/>
<text x="279.65" y="533.1" font-size="6.8" fill="#231f20" text-anchor="start" textLength="38" lengthAdjust="spacingAndGlyphs">Number at risk</text>
<text x="274.25" y="541.2" font-size="7" fill="#5a8fb8" text-anchor="end">low</text>
<text x="274.25" y="548.6" font-size="7" fill="#cc4a66" text-anchor="end">high</text>
<text x="283.45" y="541.2" font-size="7" fill="#5a8fb8" text-anchor="middle">36</text>
<text x="283.45" y="548.6" font-size="7" fill="#cc4a66" text-anchor="middle">96</text>
<text x="302.95" y="541.2" font-size="7" fill="#5a8fb8" text-anchor="middle">10</text>
<text x="302.95" y="548.6" font-size="7" fill="#cc4a66" text-anchor="middle">40</text>
<text x="322.45" y="541.2" font-size="7" fill="#5a8fb8" text-anchor="middle">6</text>
<text x="322.45" y="548.6" font-size="7" fill="#cc4a66" text-anchor="middle">18</text>
<text x="341.95" y="541.2" font-size="7" fill="#5a8fb8" text-anchor="middle">1</text>
<text x="341.95" y="548.6" font-size="7" fill="#cc4a66" text-anchor="middle">6</text>
<text x="361.45" y="541.2" font-size="7" fill="#5a8fb8" text-anchor="middle">1</text>
<text x="361.45" y="548.6" font-size="7" fill="#cc4a66" text-anchor="middle">1</text>
<text x="261" y="458.5" font-size="7.6" fill="#231f20" text-anchor="middle" stroke="#231f20" stroke-width="0.25" textLength="25.5" lengthAdjust="spacingAndGlyphs" transform="rotate(-90 261 458.5)">Probability</text>
<text x="449.5" y="411.8" font-size="8.6" fill="#231f20" text-anchor="start" textLength="27.25" lengthAdjust="spacingAndGlyphs">CXCR4</text>
<line x1="413.75" y1="416.5" x2="413.75" y2="497.8" stroke="#231f20" stroke-width="1" />
<line x1="411.25" y1="419.4" x2="413.75" y2="419.4" stroke="#231f20" stroke-width="0.9" />
<text x="407.95" y="421.8" font-size="6.7" fill="#444" text-anchor="end">1.0</text>
<line x1="411.25" y1="435" x2="413.75" y2="435" stroke="#231f20" stroke-width="0.9" />
<text x="407.95" y="437.4" font-size="6.7" fill="#444" text-anchor="end">0.8</text>
<line x1="411.25" y1="450.7" x2="413.75" y2="450.7" stroke="#231f20" stroke-width="0.9" />
<text x="407.95" y="453.1" font-size="6.7" fill="#444" text-anchor="end">0.6</text>
<line x1="411.25" y1="466.3" x2="413.75" y2="466.3" stroke="#231f20" stroke-width="0.9" />
<text x="407.95" y="468.7" font-size="6.7" fill="#444" text-anchor="end">0.4</text>
<line x1="411.25" y1="482" x2="413.75" y2="482" stroke="#231f20" stroke-width="0.9" />
<text x="407.95" y="484.4" font-size="6.7" fill="#444" text-anchor="end">0.2</text>
<line x1="411.25" y1="497.5" x2="413.75" y2="497.5" stroke="#231f20" stroke-width="0.9" />
<text x="407.95" y="499.9" font-size="6.7" fill="#444" text-anchor="end">0.0</text>
<line x1="412.75" y1="500.5" x2="513.75" y2="500.5" stroke="#231f20" stroke-width="1.1" />
<line x1="416.75" y1="500.5" x2="416.75" y2="503" stroke="#231f20" stroke-width="0.9" />
<text x="416.75" y="511.8" font-size="7.1" fill="#444" text-anchor="middle">0</text>
<line x1="436.25" y1="500.5" x2="436.25" y2="503" stroke="#231f20" stroke-width="0.9" />
<text x="436.25" y="511.8" font-size="7.1" fill="#444" text-anchor="middle">20</text>
<line x1="455.75" y1="500.5" x2="455.75" y2="503" stroke="#231f20" stroke-width="0.9" />
<text x="455.75" y="511.8" font-size="7.1" fill="#444" text-anchor="middle">40</text>
<line x1="475.25" y1="500.5" x2="475.25" y2="503" stroke="#231f20" stroke-width="0.9" />
<text x="475.25" y="511.8" font-size="7.1" fill="#444" text-anchor="middle">60</text>
<line x1="494.75" y1="500.5" x2="494.75" y2="503" stroke="#231f20" stroke-width="0.9" />
<text x="494.75" y="511.8" font-size="7.1" fill="#444" text-anchor="middle">80</text>
<text x="463.25" y="523.4" font-size="8.2" fill="#231f20" text-anchor="middle" stroke="#231f20" stroke-width="0.3" textLength="43.5" lengthAdjust="spacingAndGlyphs">OS time (months)</text>
<text x="510.75" y="423" font-size="6.5" fill="#231f20" text-anchor="end" textLength="65" lengthAdjust="spacingAndGlyphs">HR = 1.69 (1.04 − 2.74)</text>
<text x="510.75" y="430.8" font-size="6.5" fill="#231f20" text-anchor="end" textLength="44" lengthAdjust="spacingAndGlyphs">logrank <tspan font-style="italic">P</tspan> = .031</text>
<text x="415.45" y="484.8" font-size="6.5" fill="#231f20" text-anchor="start" textLength="27.7" lengthAdjust="spacingAndGlyphs">Expression</text>
<line x1="415.45" y1="489.5" x2="424.05" y2="489.5" stroke="#5a8fb8" stroke-width="0.8" />
<text x="426.95" y="491.8" font-size="6.5" fill="#231f20" text-anchor="start" textLength="9.2" lengthAdjust="spacingAndGlyphs">low</text>
<line x1="415.45" y1="495.7" x2="424.05" y2="495.7" stroke="#cc4a66" stroke-width="0.8" />
<text x="426.95" y="497.6" font-size="6.5" fill="#231f20" text-anchor="start" textLength="11.3" lengthAdjust="spacingAndGlyphs">high</text>
<polyline points="417.4,419.2 417.4,419.2 417.4,424.5 419.5,424.5 419.5,428.8 421,428.8 421,431 422.7,431 422.7,433 423.8,433 423.8,437 424.8,437 424.8,440.4 426.5,440.4 426.5,444 428,444 428,447.8 431.2,447.8 431.2,451 434.3,451 434.3,454.1 436.4,454.1 436.4,458.4 441.7,458.4 441.7,460.5 443.8,460.5 443.8,464.7 446,464.7 446,467 448.1,467 448.1,469 460.8,469 460.8,469.6 462.9,469.6 462.9,472.1 469.2,472.1 469.2,473.2 470.3,473.2 470.3,475.3 510.5,475.3 510.5,475.3" fill="none" stroke="#5a8fb8" stroke-width="0.8" stroke-linejoin="miter"/>
<polyline points="417.4,419.2 419,419.2 419,422.5 420.6,422.5 420.6,425.6 422.7,425.6 422.7,430.9 423.8,430.9 423.8,442.5 425.9,442.5 425.9,452 428,452 428,459.4 431.2,459.4 431.2,463.7 437.5,463.7 437.5,467.9 439.6,467.9 439.6,472.1 440.7,472.1 440.7,479.5 462.9,479.5 462.9,479.5 462.9,479.5 462.9,485.9 472.4,485.9 472.4,485.9 472.4,485.9 472.4,497.5" fill="none" stroke="#cc4a66" stroke-width="0.8" stroke-linejoin="miter"/>
<text x="413.15" y="533.1" font-size="6.8" fill="#231f20" text-anchor="start" textLength="38" lengthAdjust="spacingAndGlyphs">Number at risk</text>
<text x="407.75" y="541.2" font-size="7" fill="#5a8fb8" text-anchor="end">low</text>
<text x="407.75" y="548.6" font-size="7" fill="#cc4a66" text-anchor="end">high</text>
<text x="416.95" y="541.2" font-size="7" fill="#5a8fb8" text-anchor="middle">98</text>
<text x="416.95" y="548.6" font-size="7" fill="#cc4a66" text-anchor="middle">34</text>
<text x="436.45" y="541.2" font-size="7" fill="#5a8fb8" text-anchor="middle">42</text>
<text x="436.45" y="548.6" font-size="7" fill="#cc4a66" text-anchor="middle">8</text>
<text x="455.95" y="541.2" font-size="7" fill="#5a8fb8" text-anchor="middle">20</text>
<text x="455.95" y="548.6" font-size="7" fill="#cc4a66" text-anchor="middle">4</text>
<text x="475.45" y="541.2" font-size="7" fill="#5a8fb8" text-anchor="middle">7</text>
<text x="475.45" y="548.6" font-size="7" fill="#cc4a66" text-anchor="middle">0</text>
<text x="494.95" y="541.2" font-size="7" fill="#5a8fb8" text-anchor="middle">2</text>
<text x="494.95" y="548.6" font-size="7" fill="#cc4a66" text-anchor="middle">0</text>
<text x="394.75" y="458.5" font-size="7.6" fill="#231f20" text-anchor="middle" stroke="#231f20" stroke-width="0.25" textLength="25.5" lengthAdjust="spacingAndGlyphs" transform="rotate(-90 394.75 458.5)">Probability</text>
</svg></body></html>
